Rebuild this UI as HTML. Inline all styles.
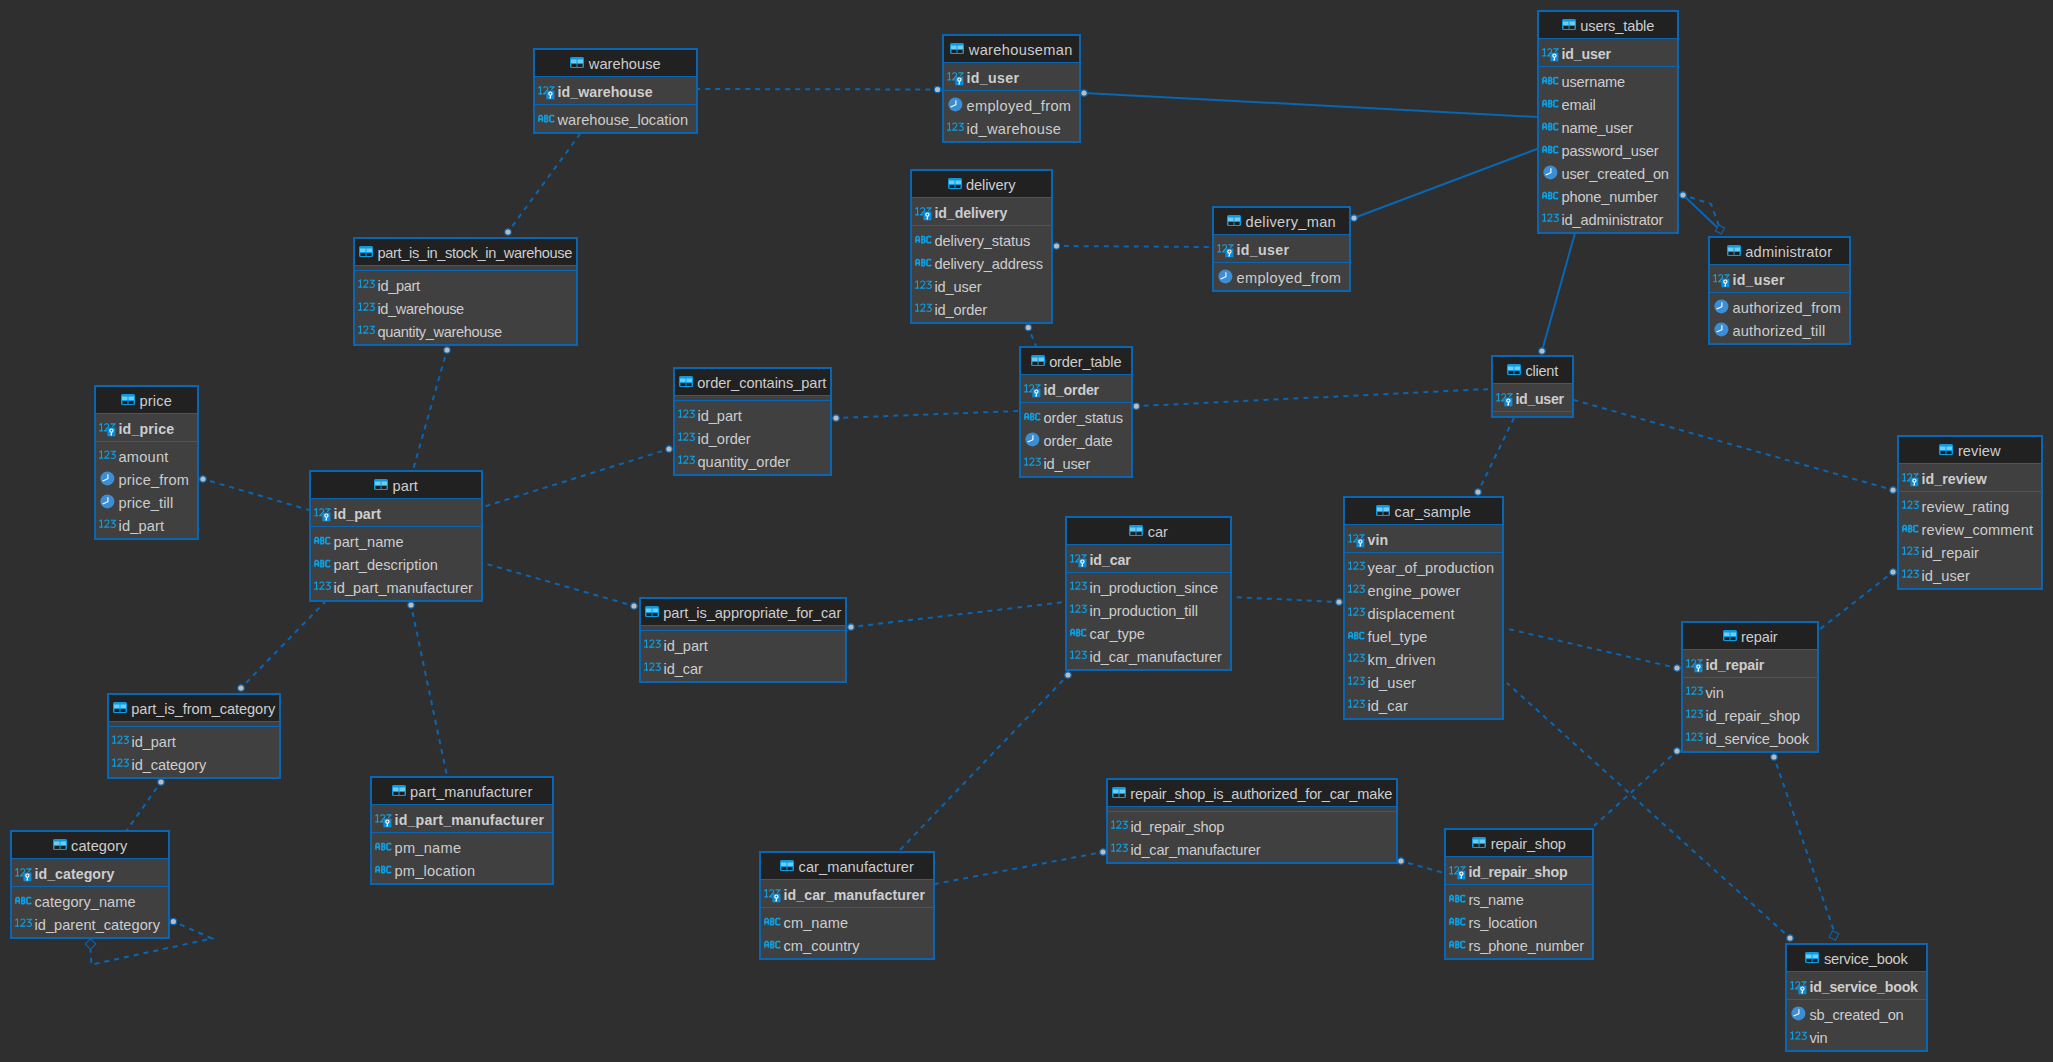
<!DOCTYPE html><html><head><meta charset="utf-8"><style>
*{margin:0;padding:0;box-sizing:border-box}
html,body{width:2053px;height:1062px;overflow:hidden;background:#2f2f2f}
body{position:relative;font-family:"Liberation Sans",sans-serif;font-size:14.6px;color:#cdcdcd}
.t{position:absolute;border:2px solid #0866b4;background:#404040}
.h{position:absolute;left:0;right:0;top:0;height:26px;background:#212121}
.hr{position:absolute;left:0;right:0;top:3.45px;height:23px;line-height:23px;text-align:center;white-space:nowrap}
.ti{display:inline-block;vertical-align:top;margin-top:4px;margin-right:4.5px}
.dv{position:absolute;left:0;right:0;height:1px;background:#0866b4}
.r{position:absolute;left:0;right:0;height:23px;line-height:23px;padding-left:22.5px;white-space:nowrap}
.b{font-weight:bold;font-size:14.2px}
.ic{position:absolute;overflow:visible}
svg.lines{position:absolute;left:0;top:0}
</style></head><body>
<svg class="lines" width="2053" height="1062" viewBox="0 0 2053 1062"><polyline points="940.20,89.51 698.00,89.00" fill="none" stroke="#0866b4" stroke-width="2" stroke-dasharray="5 5"/><polyline points="1084.00,93.00 1537.00,117.00" fill="none" stroke="#0866b4" stroke-width="2"/><polyline points="506.40,234.18 580.00,134.00" fill="none" stroke="#0866b4" stroke-width="2" stroke-dasharray="5 5"/><polyline points="447.74,347.40 413.00,470.00" fill="none" stroke="#0866b4" stroke-width="2" stroke-dasharray="5 5"/><polyline points="1053.80,245.98 1212.00,247.00" fill="none" stroke="#0866b4" stroke-width="2" stroke-dasharray="5 5"/><polyline points="1354.00,218.00 1537.00,149.00" fill="none" stroke="#0866b4" stroke-width="2"/><polyline points="1027.26,325.01 1036.00,346.00" fill="none" stroke="#0866b4" stroke-width="2" stroke-dasharray="5 5"/><polyline points="1542.00,351.00 1575.00,233.00" fill="none" stroke="#0866b4" stroke-width="2"/><polyline points="1683.00,195.00 1720.00,230.00" fill="none" stroke="#0866b4" stroke-width="2"/><polyline points="1680.43,194.17 1711.00,204.00 1719.00,226.00" fill="none" stroke="#0866b4" stroke-width="2" stroke-dasharray="5 5"/><polyline points="833.30,418.10 1019.00,411.00" fill="none" stroke="#0866b4" stroke-width="2" stroke-dasharray="5 5"/><polyline points="1133.60,406.33 1491.00,389.00" fill="none" stroke="#0866b4" stroke-width="2" stroke-dasharray="5 5"/><polyline points="1895.60,490.73 1574.00,400.00" fill="none" stroke="#0866b4" stroke-width="2" stroke-dasharray="5 5"/><polyline points="1476.82,494.43 1514.00,418.00" fill="none" stroke="#0866b4" stroke-width="2" stroke-dasharray="5 5"/><polyline points="200.41,478.24 309.00,510.00" fill="none" stroke="#0866b4" stroke-width="2" stroke-dasharray="5 5"/><polyline points="671.58,448.20 483.00,507.00" fill="none" stroke="#0866b4" stroke-width="2" stroke-dasharray="5 5"/><polyline points="636.60,606.74 483.00,563.00" fill="none" stroke="#0866b4" stroke-width="2" stroke-dasharray="5 5"/><polyline points="239.11,689.93 325.00,602.00" fill="none" stroke="#0866b4" stroke-width="2" stroke-dasharray="5 5"/><polyline points="410.44,602.36 447.00,776.00" fill="none" stroke="#0866b4" stroke-width="2" stroke-dasharray="5 5"/><polyline points="848.32,627.31 1065.00,602.00" fill="none" stroke="#0866b4" stroke-width="2" stroke-dasharray="5 5"/><polyline points="1341.70,602.13 1232.00,597.00" fill="none" stroke="#0866b4" stroke-width="2" stroke-dasharray="5 5"/><polyline points="1069.87,673.05 899.00,851.00" fill="none" stroke="#0866b4" stroke-width="2" stroke-dasharray="5 5"/><polyline points="162.56,779.80 127.00,830.00" fill="none" stroke="#0866b4" stroke-width="2" stroke-dasharray="5 5"/><polyline points="170.93,920.41 212.00,938.50 91.50,964.60 90.50,949.50" fill="none" stroke="#0866b4" stroke-width="2" stroke-dasharray="5 5"/><polyline points="1105.65,851.49 935.00,884.00" fill="none" stroke="#0866b4" stroke-width="2" stroke-dasharray="5 5"/><polyline points="1398.40,860.27 1444.00,873.00" fill="none" stroke="#0866b4" stroke-width="2" stroke-dasharray="5 5"/><polyline points="1679.63,668.61 1508.00,629.00" fill="none" stroke="#0866b4" stroke-width="2" stroke-dasharray="5 5"/><polyline points="1792.01,939.81 1507.00,683.00" fill="none" stroke="#0866b4" stroke-width="2" stroke-dasharray="5 5"/><polyline points="1679.00,749.19 1594.00,826.00" fill="none" stroke="#0866b4" stroke-width="2" stroke-dasharray="5 5"/><polyline points="1895.13,570.33 1819.00,630.00" fill="none" stroke="#0866b4" stroke-width="2" stroke-dasharray="5 5"/><polyline points="1773.12,754.45 1834.00,931.00" fill="none" stroke="#0866b4" stroke-width="2" stroke-dasharray="5 5"/><path d="M1721.40 234.09 L1715.41 230.90 L1718.60 224.91 L1724.59 228.10 Z" fill="#2f2f2f" stroke="#0866b4" stroke-width="1.1"/><path d="M90.50 949.30 L85.20 944.00 L90.50 938.70 L95.80 944.00 Z" fill="#2f2f2f" stroke="#0866b4" stroke-width="1.1"/><path d="M1835.63 940.23 L1829.27 937.13 L1832.37 930.77 L1838.73 933.87 Z" fill="#2f2f2f" stroke="#0866b4" stroke-width="1.1"/><circle cx="937.5" cy="89.5" r="3.2" fill="#bcbcbc" stroke="#0866b4" stroke-width="1.2"/><circle cx="1084" cy="93" r="3.2" fill="#bcbcbc" stroke="#0866b4" stroke-width="1.2"/><circle cx="508" cy="232" r="3.2" fill="#bcbcbc" stroke="#0866b4" stroke-width="1.2"/><circle cx="447" cy="350" r="3.2" fill="#bcbcbc" stroke="#0866b4" stroke-width="1.2"/><circle cx="1056.5" cy="246" r="3.2" fill="#bcbcbc" stroke="#0866b4" stroke-width="1.2"/><circle cx="1354" cy="218" r="3.2" fill="#bcbcbc" stroke="#0866b4" stroke-width="1.2"/><circle cx="1028.3" cy="327.5" r="3.2" fill="#bcbcbc" stroke="#0866b4" stroke-width="1.2"/><circle cx="1542" cy="351" r="3.2" fill="#bcbcbc" stroke="#0866b4" stroke-width="1.2"/><circle cx="1683" cy="195" r="3.2" fill="#bcbcbc" stroke="#0866b4" stroke-width="1.2"/><circle cx="836" cy="418" r="3.2" fill="#bcbcbc" stroke="#0866b4" stroke-width="1.2"/><circle cx="1136.3" cy="406.2" r="3.2" fill="#bcbcbc" stroke="#0866b4" stroke-width="1.2"/><circle cx="1893" cy="490" r="3.2" fill="#bcbcbc" stroke="#0866b4" stroke-width="1.2"/><circle cx="1478" cy="492" r="3.2" fill="#bcbcbc" stroke="#0866b4" stroke-width="1.2"/><circle cx="203" cy="479" r="3.2" fill="#bcbcbc" stroke="#0866b4" stroke-width="1.2"/><circle cx="669" cy="449" r="3.2" fill="#bcbcbc" stroke="#0866b4" stroke-width="1.2"/><circle cx="634" cy="606" r="3.2" fill="#bcbcbc" stroke="#0866b4" stroke-width="1.2"/><circle cx="241" cy="688" r="3.2" fill="#bcbcbc" stroke="#0866b4" stroke-width="1.2"/><circle cx="411" cy="605" r="3.2" fill="#bcbcbc" stroke="#0866b4" stroke-width="1.2"/><circle cx="851" cy="627" r="3.2" fill="#bcbcbc" stroke="#0866b4" stroke-width="1.2"/><circle cx="1339" cy="602" r="3.2" fill="#bcbcbc" stroke="#0866b4" stroke-width="1.2"/><circle cx="1068" cy="675" r="3.2" fill="#bcbcbc" stroke="#0866b4" stroke-width="1.2"/><circle cx="161" cy="782" r="3.2" fill="#bcbcbc" stroke="#0866b4" stroke-width="1.2"/><circle cx="173.4" cy="921.5" r="3.2" fill="#bcbcbc" stroke="#0866b4" stroke-width="1.2"/><circle cx="1103" cy="852" r="3.2" fill="#bcbcbc" stroke="#0866b4" stroke-width="1.2"/><circle cx="1401" cy="861" r="3.2" fill="#bcbcbc" stroke="#0866b4" stroke-width="1.2"/><circle cx="1677" cy="668" r="3.2" fill="#bcbcbc" stroke="#0866b4" stroke-width="1.2"/><circle cx="1790" cy="938" r="3.2" fill="#bcbcbc" stroke="#0866b4" stroke-width="1.2"/><circle cx="1677" cy="751" r="3.2" fill="#bcbcbc" stroke="#0866b4" stroke-width="1.2"/><circle cx="1893" cy="572" r="3.2" fill="#bcbcbc" stroke="#0866b4" stroke-width="1.2"/><circle cx="1774" cy="757" r="3.2" fill="#bcbcbc" stroke="#0866b4" stroke-width="1.2"/></svg>
<div class="t" style="left:533px;top:48px;width:165px;height:86.00px"><div class="h"><div class="hr"><svg class="ti" width="14" height="11" viewBox="0 0 14 11"><rect x="0" y="0" width="14" height="11" rx="1.5" fill="#0a9be3"/><rect x="1" y="2.5" width="5.5" height="3.5" fill="#6dcdf0"/><rect x="7.5" y="2.5" width="5.5" height="3.5" fill="#6dcdf0"/><rect x="1.5" y="7" width="5" height="3" fill="#1e1e1e"/><rect x="7.5" y="7" width="5" height="3" fill="#1e1e1e"/></svg><span style="letter-spacing:0.047px;">warehouse</span></div></div><div class="dv" style="top:26px"></div><div class="dv" style="top:54px"></div><div class="r b" style="top:31.45px;letter-spacing:0.046px;"><svg class="ic" style="top:5px;left:2.7px" width="18" height="15" viewBox="0 0 18 15"><g transform="translate(0.1,0.4)" stroke="#0aa0e6" stroke-width="1.15" fill="none" stroke-linejoin="round"><path d="M0.3 1.6 L2.4 0.2 V7.4 M0.2 7.4 H4"/><path d="M5.3 1.6 Q6.6 0.1 8.2 0.35 Q9.9 0.8 9.6 2.6 Q9.3 3.6 5.4 7.4 H8"/><path d="M11.3 0.5 H16.1 L13 3.5"/></g><rect x="8.4" y="4.6" width="8" height="8.7" fill="#0a8ddb"/><circle cx="12.4" cy="7.6" r="1.6" stroke="#fff" stroke-width="1.15" fill="none"/><path d="M12.4 9.2 V11.9 H11.4" stroke="#fff" stroke-width="1.15" fill="none"/></svg>id_warehouse</div><div class="r" style="top:58.90px;letter-spacing:0.040px;"><svg class="ic" style="top:6px;left:3px" width="18" height="9" viewBox="0 0 18 9"><g transform="translate(0,-0.4)" stroke="#0aa0e6" stroke-width="1.6" fill="none"><path d="M0.9 7.2 V2.1 L1.9 0.9 H3.3 L4.3 2.1 V7.2 M0.9 4.5 H4.3"/><path d="M6.9 7.1 V0.9 H8.8 L9.6 1.7 V2.8 L8.8 3.9 L9.7 4.9 V6.2 L8.9 7.1 Z M6.9 3.9 H8.8"/><path d="M16.2 1.7 L15.3 0.9 H12.8 L11.9 1.8 V6.2 L12.8 7.1 H15.3 L16.2 6.3"/></g></svg>warehouse_location</div></div>
<div class="t" style="left:942px;top:34px;width:139px;height:109.00px"><div class="h"><div class="hr"><svg class="ti" width="14" height="11" viewBox="0 0 14 11"><rect x="0" y="0" width="14" height="11" rx="1.5" fill="#0a9be3"/><rect x="1" y="2.5" width="5.5" height="3.5" fill="#6dcdf0"/><rect x="7.5" y="2.5" width="5.5" height="3.5" fill="#6dcdf0"/><rect x="1.5" y="7" width="5" height="3" fill="#1e1e1e"/><rect x="7.5" y="7" width="5" height="3" fill="#1e1e1e"/></svg><span style="letter-spacing:0.352px;">warehouseman</span></div></div><div class="dv" style="top:26px"></div><div class="dv" style="top:54px"></div><div class="r b" style="top:31.45px;letter-spacing:0.327px;"><svg class="ic" style="top:5px;left:2.7px" width="18" height="15" viewBox="0 0 18 15"><g transform="translate(0.1,0.4)" stroke="#0aa0e6" stroke-width="1.15" fill="none" stroke-linejoin="round"><path d="M0.3 1.6 L2.4 0.2 V7.4 M0.2 7.4 H4"/><path d="M5.3 1.6 Q6.6 0.1 8.2 0.35 Q9.9 0.8 9.6 2.6 Q9.3 3.6 5.4 7.4 H8"/><path d="M11.3 0.5 H16.1 L13 3.5"/></g><rect x="8.4" y="4.6" width="8" height="8.7" fill="#0a8ddb"/><circle cx="12.4" cy="7.6" r="1.6" stroke="#fff" stroke-width="1.15" fill="none"/><path d="M12.4 9.2 V11.9 H11.4" stroke="#fff" stroke-width="1.15" fill="none"/></svg>id_user</div><div class="r" style="top:58.90px;letter-spacing:0.326px;"><svg class="ic" style="top:2.5px;left:3.5px" width="15" height="15" viewBox="0 0 15 15"><circle cx="7.4" cy="7.4" r="7" fill="#3b8ed4"/><path d="M7.9 3.3 V7.7 L2.6 10" stroke="#fff" stroke-width="1.1" fill="none"/></svg>employed_from</div><div class="r" style="top:81.90px;letter-spacing:0.321px;"><svg class="ic" style="top:5px;left:3px" width="18" height="10" viewBox="0 0 18 10"><g transform="translate(0,-0.3) scale(1.03,1)" stroke="#0aa0e6" stroke-width="1.05" fill="none" stroke-linejoin="round"><path d="M0.3 1.6 L2.4 0.2 V7.4 M0.2 7.4 H4"/><path d="M5.3 1.6 Q6.6 0.1 8.2 0.35 Q9.9 0.8 9.6 2.6 Q9.3 3.6 5.4 7.4 H10.1"/><path d="M11.3 0.5 H16.1 L13 3.5 Q15.9 3.6 15.9 5.6 Q15.8 7.8 13.6 7.8 Q12 7.8 11.3 6.9"/></g></svg>id_warehouse</div></div>
<div class="t" style="left:1537px;top:10px;width:142px;height:224.00px"><div class="h"><div class="hr"><svg class="ti" width="14" height="11" viewBox="0 0 14 11"><rect x="0" y="0" width="14" height="11" rx="1.5" fill="#0a9be3"/><rect x="1" y="2.5" width="5.5" height="3.5" fill="#6dcdf0"/><rect x="7.5" y="2.5" width="5.5" height="3.5" fill="#6dcdf0"/><rect x="1.5" y="7" width="5" height="3" fill="#1e1e1e"/><rect x="7.5" y="7" width="5" height="3" fill="#1e1e1e"/></svg><span style="letter-spacing:-0.141px;">users_table</span></div></div><div class="dv" style="top:26px"></div><div class="dv" style="top:54px"></div><div class="r b" style="top:31.45px;letter-spacing:-0.157px;"><svg class="ic" style="top:5px;left:2.7px" width="18" height="15" viewBox="0 0 18 15"><g transform="translate(0.1,0.4)" stroke="#0aa0e6" stroke-width="1.15" fill="none" stroke-linejoin="round"><path d="M0.3 1.6 L2.4 0.2 V7.4 M0.2 7.4 H4"/><path d="M5.3 1.6 Q6.6 0.1 8.2 0.35 Q9.9 0.8 9.6 2.6 Q9.3 3.6 5.4 7.4 H8"/><path d="M11.3 0.5 H16.1 L13 3.5"/></g><rect x="8.4" y="4.6" width="8" height="8.7" fill="#0a8ddb"/><circle cx="12.4" cy="7.6" r="1.6" stroke="#fff" stroke-width="1.15" fill="none"/><path d="M12.4 9.2 V11.9 H11.4" stroke="#fff" stroke-width="1.15" fill="none"/></svg>id_user</div><div class="r" style="top:58.90px;letter-spacing:-0.173px;"><svg class="ic" style="top:6px;left:3px" width="18" height="9" viewBox="0 0 18 9"><g transform="translate(0,-0.4)" stroke="#0aa0e6" stroke-width="1.6" fill="none"><path d="M0.9 7.2 V2.1 L1.9 0.9 H3.3 L4.3 2.1 V7.2 M0.9 4.5 H4.3"/><path d="M6.9 7.1 V0.9 H8.8 L9.6 1.7 V2.8 L8.8 3.9 L9.7 4.9 V6.2 L8.9 7.1 Z M6.9 3.9 H8.8"/><path d="M16.2 1.7 L15.3 0.9 H12.8 L11.9 1.8 V6.2 L12.8 7.1 H15.3 L16.2 6.3"/></g></svg>username</div><div class="r" style="top:81.90px;letter-spacing:-0.163px;"><svg class="ic" style="top:6px;left:3px" width="18" height="9" viewBox="0 0 18 9"><g transform="translate(0,-0.4)" stroke="#0aa0e6" stroke-width="1.6" fill="none"><path d="M0.9 7.2 V2.1 L1.9 0.9 H3.3 L4.3 2.1 V7.2 M0.9 4.5 H4.3"/><path d="M6.9 7.1 V0.9 H8.8 L9.6 1.7 V2.8 L8.8 3.9 L9.7 4.9 V6.2 L8.9 7.1 Z M6.9 3.9 H8.8"/><path d="M16.2 1.7 L15.3 0.9 H12.8 L11.9 1.8 V6.2 L12.8 7.1 H15.3 L16.2 6.3"/></g></svg>email</div><div class="r" style="top:104.90px;letter-spacing:-0.171px;"><svg class="ic" style="top:6px;left:3px" width="18" height="9" viewBox="0 0 18 9"><g transform="translate(0,-0.4)" stroke="#0aa0e6" stroke-width="1.6" fill="none"><path d="M0.9 7.2 V2.1 L1.9 0.9 H3.3 L4.3 2.1 V7.2 M0.9 4.5 H4.3"/><path d="M6.9 7.1 V0.9 H8.8 L9.6 1.7 V2.8 L8.8 3.9 L9.7 4.9 V6.2 L8.9 7.1 Z M6.9 3.9 H8.8"/><path d="M16.2 1.7 L15.3 0.9 H12.8 L11.9 1.8 V6.2 L12.8 7.1 H15.3 L16.2 6.3"/></g></svg>name_user</div><div class="r" style="top:127.90px;letter-spacing:-0.154px;"><svg class="ic" style="top:6px;left:3px" width="18" height="9" viewBox="0 0 18 9"><g transform="translate(0,-0.4)" stroke="#0aa0e6" stroke-width="1.6" fill="none"><path d="M0.9 7.2 V2.1 L1.9 0.9 H3.3 L4.3 2.1 V7.2 M0.9 4.5 H4.3"/><path d="M6.9 7.1 V0.9 H8.8 L9.6 1.7 V2.8 L8.8 3.9 L9.7 4.9 V6.2 L8.9 7.1 Z M6.9 3.9 H8.8"/><path d="M16.2 1.7 L15.3 0.9 H12.8 L11.9 1.8 V6.2 L12.8 7.1 H15.3 L16.2 6.3"/></g></svg>password_user</div><div class="r" style="top:150.90px;letter-spacing:-0.146px;"><svg class="ic" style="top:2.5px;left:3.5px" width="15" height="15" viewBox="0 0 15 15"><circle cx="7.4" cy="7.4" r="7" fill="#3b8ed4"/><path d="M7.9 3.3 V7.7 L2.6 10" stroke="#fff" stroke-width="1.1" fill="none"/></svg>user_created_on</div><div class="r" style="top:173.90px;letter-spacing:-0.167px;"><svg class="ic" style="top:6px;left:3px" width="18" height="9" viewBox="0 0 18 9"><g transform="translate(0,-0.4)" stroke="#0aa0e6" stroke-width="1.6" fill="none"><path d="M0.9 7.2 V2.1 L1.9 0.9 H3.3 L4.3 2.1 V7.2 M0.9 4.5 H4.3"/><path d="M6.9 7.1 V0.9 H8.8 L9.6 1.7 V2.8 L8.8 3.9 L9.7 4.9 V6.2 L8.9 7.1 Z M6.9 3.9 H8.8"/><path d="M16.2 1.7 L15.3 0.9 H12.8 L11.9 1.8 V6.2 L12.8 7.1 H15.3 L16.2 6.3"/></g></svg>phone_number</div><div class="r" style="top:196.90px;letter-spacing:-0.129px;"><svg class="ic" style="top:5px;left:3px" width="18" height="10" viewBox="0 0 18 10"><g transform="translate(0,-0.3) scale(1.03,1)" stroke="#0aa0e6" stroke-width="1.05" fill="none" stroke-linejoin="round"><path d="M0.3 1.6 L2.4 0.2 V7.4 M0.2 7.4 H4"/><path d="M5.3 1.6 Q6.6 0.1 8.2 0.35 Q9.9 0.8 9.6 2.6 Q9.3 3.6 5.4 7.4 H10.1"/><path d="M11.3 0.5 H16.1 L13 3.5 Q15.9 3.6 15.9 5.6 Q15.8 7.8 13.6 7.8 Q12 7.8 11.3 6.9"/></g></svg>id_administrator</div></div>
<div class="t" style="left:353px;top:237px;width:225px;height:109.00px"><div class="h"><div class="hr"><svg class="ti" width="14" height="11" viewBox="0 0 14 11"><rect x="0" y="0" width="14" height="11" rx="1.5" fill="#0a9be3"/><rect x="1" y="2.5" width="5.5" height="3.5" fill="#6dcdf0"/><rect x="7.5" y="2.5" width="5.5" height="3.5" fill="#6dcdf0"/><rect x="1.5" y="7" width="5" height="3" fill="#1e1e1e"/><rect x="7.5" y="7" width="5" height="3" fill="#1e1e1e"/></svg><span style="letter-spacing:-0.338px;">part_is_in_stock_in_warehouse</span></div></div><div class="dv" style="top:26px"></div><div class="dv" style="top:31px"></div><div class="r" style="top:35.90px;letter-spacing:-0.344px;"><svg class="ic" style="top:5px;left:3px" width="18" height="10" viewBox="0 0 18 10"><g transform="translate(0,-0.3) scale(1.03,1)" stroke="#0aa0e6" stroke-width="1.05" fill="none" stroke-linejoin="round"><path d="M0.3 1.6 L2.4 0.2 V7.4 M0.2 7.4 H4"/><path d="M5.3 1.6 Q6.6 0.1 8.2 0.35 Q9.9 0.8 9.6 2.6 Q9.3 3.6 5.4 7.4 H10.1"/><path d="M11.3 0.5 H16.1 L13 3.5 Q15.9 3.6 15.9 5.6 Q15.8 7.8 13.6 7.8 Q12 7.8 11.3 6.9"/></g></svg>id_part</div><div class="r" style="top:58.90px;letter-spacing:-0.382px;"><svg class="ic" style="top:5px;left:3px" width="18" height="10" viewBox="0 0 18 10"><g transform="translate(0,-0.3) scale(1.03,1)" stroke="#0aa0e6" stroke-width="1.05" fill="none" stroke-linejoin="round"><path d="M0.3 1.6 L2.4 0.2 V7.4 M0.2 7.4 H4"/><path d="M5.3 1.6 Q6.6 0.1 8.2 0.35 Q9.9 0.8 9.6 2.6 Q9.3 3.6 5.4 7.4 H10.1"/><path d="M11.3 0.5 H16.1 L13 3.5 Q15.9 3.6 15.9 5.6 Q15.8 7.8 13.6 7.8 Q12 7.8 11.3 6.9"/></g></svg>id_warehouse</div><div class="r" style="top:81.90px;letter-spacing:-0.355px;"><svg class="ic" style="top:5px;left:3px" width="18" height="10" viewBox="0 0 18 10"><g transform="translate(0,-0.3) scale(1.03,1)" stroke="#0aa0e6" stroke-width="1.05" fill="none" stroke-linejoin="round"><path d="M0.3 1.6 L2.4 0.2 V7.4 M0.2 7.4 H4"/><path d="M5.3 1.6 Q6.6 0.1 8.2 0.35 Q9.9 0.8 9.6 2.6 Q9.3 3.6 5.4 7.4 H10.1"/><path d="M11.3 0.5 H16.1 L13 3.5 Q15.9 3.6 15.9 5.6 Q15.8 7.8 13.6 7.8 Q12 7.8 11.3 6.9"/></g></svg>quantity_warehouse</div></div>
<div class="t" style="left:910px;top:169px;width:143px;height:155.00px"><div class="h"><div class="hr"><svg class="ti" width="14" height="11" viewBox="0 0 14 11"><rect x="0" y="0" width="14" height="11" rx="1.5" fill="#0a9be3"/><rect x="1" y="2.5" width="5.5" height="3.5" fill="#6dcdf0"/><rect x="7.5" y="2.5" width="5.5" height="3.5" fill="#6dcdf0"/><rect x="1.5" y="7" width="5" height="3" fill="#1e1e1e"/><rect x="7.5" y="7" width="5" height="3" fill="#1e1e1e"/></svg><span style="letter-spacing:-0.119px;">delivery</span></div></div><div class="dv" style="top:26px"></div><div class="dv" style="top:54px"></div><div class="r b" style="top:31.45px;letter-spacing:-0.123px;"><svg class="ic" style="top:5px;left:2.7px" width="18" height="15" viewBox="0 0 18 15"><g transform="translate(0.1,0.4)" stroke="#0aa0e6" stroke-width="1.15" fill="none" stroke-linejoin="round"><path d="M0.3 1.6 L2.4 0.2 V7.4 M0.2 7.4 H4"/><path d="M5.3 1.6 Q6.6 0.1 8.2 0.35 Q9.9 0.8 9.6 2.6 Q9.3 3.6 5.4 7.4 H8"/><path d="M11.3 0.5 H16.1 L13 3.5"/></g><rect x="8.4" y="4.6" width="8" height="8.7" fill="#0a8ddb"/><circle cx="12.4" cy="7.6" r="1.6" stroke="#fff" stroke-width="1.15" fill="none"/><path d="M12.4 9.2 V11.9 H11.4" stroke="#fff" stroke-width="1.15" fill="none"/></svg>id_delivery</div><div class="r" style="top:58.90px;letter-spacing:-0.115px;"><svg class="ic" style="top:6px;left:3px" width="18" height="9" viewBox="0 0 18 9"><g transform="translate(0,-0.4)" stroke="#0aa0e6" stroke-width="1.6" fill="none"><path d="M0.9 7.2 V2.1 L1.9 0.9 H3.3 L4.3 2.1 V7.2 M0.9 4.5 H4.3"/><path d="M6.9 7.1 V0.9 H8.8 L9.6 1.7 V2.8 L8.8 3.9 L9.7 4.9 V6.2 L8.9 7.1 Z M6.9 3.9 H8.8"/><path d="M16.2 1.7 L15.3 0.9 H12.8 L11.9 1.8 V6.2 L12.8 7.1 H15.3 L16.2 6.3"/></g></svg>delivery_status</div><div class="r" style="top:81.90px;letter-spacing:-0.122px;"><svg class="ic" style="top:6px;left:3px" width="18" height="9" viewBox="0 0 18 9"><g transform="translate(0,-0.4)" stroke="#0aa0e6" stroke-width="1.6" fill="none"><path d="M0.9 7.2 V2.1 L1.9 0.9 H3.3 L4.3 2.1 V7.2 M0.9 4.5 H4.3"/><path d="M6.9 7.1 V0.9 H8.8 L9.6 1.7 V2.8 L8.8 3.9 L9.7 4.9 V6.2 L8.9 7.1 Z M6.9 3.9 H8.8"/><path d="M16.2 1.7 L15.3 0.9 H12.8 L11.9 1.8 V6.2 L12.8 7.1 H15.3 L16.2 6.3"/></g></svg>delivery_address</div><div class="r" style="top:104.90px;letter-spacing:-0.132px;"><svg class="ic" style="top:5px;left:3px" width="18" height="10" viewBox="0 0 18 10"><g transform="translate(0,-0.3) scale(1.03,1)" stroke="#0aa0e6" stroke-width="1.05" fill="none" stroke-linejoin="round"><path d="M0.3 1.6 L2.4 0.2 V7.4 M0.2 7.4 H4"/><path d="M5.3 1.6 Q6.6 0.1 8.2 0.35 Q9.9 0.8 9.6 2.6 Q9.3 3.6 5.4 7.4 H10.1"/><path d="M11.3 0.5 H16.1 L13 3.5 Q15.9 3.6 15.9 5.6 Q15.8 7.8 13.6 7.8 Q12 7.8 11.3 6.9"/></g></svg>id_user</div><div class="r" style="top:127.90px;letter-spacing:-0.127px;"><svg class="ic" style="top:5px;left:3px" width="18" height="10" viewBox="0 0 18 10"><g transform="translate(0,-0.3) scale(1.03,1)" stroke="#0aa0e6" stroke-width="1.05" fill="none" stroke-linejoin="round"><path d="M0.3 1.6 L2.4 0.2 V7.4 M0.2 7.4 H4"/><path d="M5.3 1.6 Q6.6 0.1 8.2 0.35 Q9.9 0.8 9.6 2.6 Q9.3 3.6 5.4 7.4 H10.1"/><path d="M11.3 0.5 H16.1 L13 3.5 Q15.9 3.6 15.9 5.6 Q15.8 7.8 13.6 7.8 Q12 7.8 11.3 6.9"/></g></svg>id_order</div></div>
<div class="t" style="left:1212px;top:206px;width:139px;height:86.00px"><div class="h"><div class="hr"><svg class="ti" width="14" height="11" viewBox="0 0 14 11"><rect x="0" y="0" width="14" height="11" rx="1.5" fill="#0a9be3"/><rect x="1" y="2.5" width="5.5" height="3.5" fill="#6dcdf0"/><rect x="7.5" y="2.5" width="5.5" height="3.5" fill="#6dcdf0"/><rect x="1.5" y="7" width="5" height="3" fill="#1e1e1e"/><rect x="7.5" y="7" width="5" height="3" fill="#1e1e1e"/></svg><span style="letter-spacing:0.306px;">delivery_man</span></div></div><div class="dv" style="top:26px"></div><div class="dv" style="top:54px"></div><div class="r b" style="top:31.45px;letter-spacing:0.327px;"><svg class="ic" style="top:5px;left:2.7px" width="18" height="15" viewBox="0 0 18 15"><g transform="translate(0.1,0.4)" stroke="#0aa0e6" stroke-width="1.15" fill="none" stroke-linejoin="round"><path d="M0.3 1.6 L2.4 0.2 V7.4 M0.2 7.4 H4"/><path d="M5.3 1.6 Q6.6 0.1 8.2 0.35 Q9.9 0.8 9.6 2.6 Q9.3 3.6 5.4 7.4 H8"/><path d="M11.3 0.5 H16.1 L13 3.5"/></g><rect x="8.4" y="4.6" width="8" height="8.7" fill="#0a8ddb"/><circle cx="12.4" cy="7.6" r="1.6" stroke="#fff" stroke-width="1.15" fill="none"/><path d="M12.4 9.2 V11.9 H11.4" stroke="#fff" stroke-width="1.15" fill="none"/></svg>id_user</div><div class="r" style="top:58.90px;letter-spacing:0.326px;"><svg class="ic" style="top:2.5px;left:3.5px" width="15" height="15" viewBox="0 0 15 15"><circle cx="7.4" cy="7.4" r="7" fill="#3b8ed4"/><path d="M7.9 3.3 V7.7 L2.6 10" stroke="#fff" stroke-width="1.1" fill="none"/></svg>employed_from</div></div>
<div class="t" style="left:1708px;top:236px;width:143px;height:109.00px"><div class="h"><div class="hr"><svg class="ti" width="14" height="11" viewBox="0 0 14 11"><rect x="0" y="0" width="14" height="11" rx="1.5" fill="#0a9be3"/><rect x="1" y="2.5" width="5.5" height="3.5" fill="#6dcdf0"/><rect x="7.5" y="2.5" width="5.5" height="3.5" fill="#6dcdf0"/><rect x="1.5" y="7" width="5" height="3" fill="#1e1e1e"/><rect x="7.5" y="7" width="5" height="3" fill="#1e1e1e"/></svg><span style="letter-spacing:0.202px;">administrator</span></div></div><div class="dv" style="top:26px"></div><div class="dv" style="top:54px"></div><div class="r b" style="top:31.45px;letter-spacing:0.242px;"><svg class="ic" style="top:5px;left:2.7px" width="18" height="15" viewBox="0 0 18 15"><g transform="translate(0.1,0.4)" stroke="#0aa0e6" stroke-width="1.15" fill="none" stroke-linejoin="round"><path d="M0.3 1.6 L2.4 0.2 V7.4 M0.2 7.4 H4"/><path d="M5.3 1.6 Q6.6 0.1 8.2 0.35 Q9.9 0.8 9.6 2.6 Q9.3 3.6 5.4 7.4 H8"/><path d="M11.3 0.5 H16.1 L13 3.5"/></g><rect x="8.4" y="4.6" width="8" height="8.7" fill="#0a8ddb"/><circle cx="12.4" cy="7.6" r="1.6" stroke="#fff" stroke-width="1.15" fill="none"/><path d="M12.4 9.2 V11.9 H11.4" stroke="#fff" stroke-width="1.15" fill="none"/></svg>id_user</div><div class="r" style="top:58.90px;letter-spacing:0.217px;"><svg class="ic" style="top:2.5px;left:3.5px" width="15" height="15" viewBox="0 0 15 15"><circle cx="7.4" cy="7.4" r="7" fill="#3b8ed4"/><path d="M7.9 3.3 V7.7 L2.6 10" stroke="#fff" stroke-width="1.1" fill="none"/></svg>authorized_from</div><div class="r" style="top:81.90px;letter-spacing:0.185px;"><svg class="ic" style="top:2.5px;left:3.5px" width="15" height="15" viewBox="0 0 15 15"><circle cx="7.4" cy="7.4" r="7" fill="#3b8ed4"/><path d="M7.9 3.3 V7.7 L2.6 10" stroke="#fff" stroke-width="1.1" fill="none"/></svg>authorized_till</div></div>
<div class="t" style="left:94px;top:385px;width:105px;height:155.00px"><div class="h"><div class="hr"><svg class="ti" width="14" height="11" viewBox="0 0 14 11"><rect x="0" y="0" width="14" height="11" rx="1.5" fill="#0a9be3"/><rect x="1" y="2.5" width="5.5" height="3.5" fill="#6dcdf0"/><rect x="7.5" y="2.5" width="5.5" height="3.5" fill="#6dcdf0"/><rect x="1.5" y="7" width="5" height="3" fill="#1e1e1e"/><rect x="7.5" y="7" width="5" height="3" fill="#1e1e1e"/></svg><span style="letter-spacing:0.179px;">price</span></div></div><div class="dv" style="top:26px"></div><div class="dv" style="top:54px"></div><div class="r b" style="top:31.45px;letter-spacing:0.176px;"><svg class="ic" style="top:5px;left:2.7px" width="18" height="15" viewBox="0 0 18 15"><g transform="translate(0.1,0.4)" stroke="#0aa0e6" stroke-width="1.15" fill="none" stroke-linejoin="round"><path d="M0.3 1.6 L2.4 0.2 V7.4 M0.2 7.4 H4"/><path d="M5.3 1.6 Q6.6 0.1 8.2 0.35 Q9.9 0.8 9.6 2.6 Q9.3 3.6 5.4 7.4 H8"/><path d="M11.3 0.5 H16.1 L13 3.5"/></g><rect x="8.4" y="4.6" width="8" height="8.7" fill="#0a8ddb"/><circle cx="12.4" cy="7.6" r="1.6" stroke="#fff" stroke-width="1.15" fill="none"/><path d="M12.4 9.2 V11.9 H11.4" stroke="#fff" stroke-width="1.15" fill="none"/></svg>id_price</div><div class="r" style="top:58.90px;letter-spacing:0.221px;"><svg class="ic" style="top:5px;left:3px" width="18" height="10" viewBox="0 0 18 10"><g transform="translate(0,-0.3) scale(1.03,1)" stroke="#0aa0e6" stroke-width="1.05" fill="none" stroke-linejoin="round"><path d="M0.3 1.6 L2.4 0.2 V7.4 M0.2 7.4 H4"/><path d="M5.3 1.6 Q6.6 0.1 8.2 0.35 Q9.9 0.8 9.6 2.6 Q9.3 3.6 5.4 7.4 H10.1"/><path d="M11.3 0.5 H16.1 L13 3.5 Q15.9 3.6 15.9 5.6 Q15.8 7.8 13.6 7.8 Q12 7.8 11.3 6.9"/></g></svg>amount</div><div class="r" style="top:81.90px;letter-spacing:0.174px;"><svg class="ic" style="top:2.5px;left:3.5px" width="15" height="15" viewBox="0 0 15 15"><circle cx="7.4" cy="7.4" r="7" fill="#3b8ed4"/><path d="M7.9 3.3 V7.7 L2.6 10" stroke="#fff" stroke-width="1.1" fill="none"/></svg>price_from</div><div class="r" style="top:104.90px;letter-spacing:0.135px;"><svg class="ic" style="top:2.5px;left:3.5px" width="15" height="15" viewBox="0 0 15 15"><circle cx="7.4" cy="7.4" r="7" fill="#3b8ed4"/><path d="M7.9 3.3 V7.7 L2.6 10" stroke="#fff" stroke-width="1.1" fill="none"/></svg>price_till</div><div class="r" style="top:127.90px;letter-spacing:0.169px;"><svg class="ic" style="top:5px;left:3px" width="18" height="10" viewBox="0 0 18 10"><g transform="translate(0,-0.3) scale(1.03,1)" stroke="#0aa0e6" stroke-width="1.05" fill="none" stroke-linejoin="round"><path d="M0.3 1.6 L2.4 0.2 V7.4 M0.2 7.4 H4"/><path d="M5.3 1.6 Q6.6 0.1 8.2 0.35 Q9.9 0.8 9.6 2.6 Q9.3 3.6 5.4 7.4 H10.1"/><path d="M11.3 0.5 H16.1 L13 3.5 Q15.9 3.6 15.9 5.6 Q15.8 7.8 13.6 7.8 Q12 7.8 11.3 6.9"/></g></svg>id_part</div></div>
<div class="t" style="left:673px;top:367px;width:159px;height:109.00px"><div class="h"><div class="hr"><svg class="ti" width="14" height="11" viewBox="0 0 14 11"><rect x="0" y="0" width="14" height="11" rx="1.5" fill="#0a9be3"/><rect x="1" y="2.5" width="5.5" height="3.5" fill="#6dcdf0"/><rect x="7.5" y="2.5" width="5.5" height="3.5" fill="#6dcdf0"/><rect x="1.5" y="7" width="5" height="3" fill="#1e1e1e"/><rect x="7.5" y="7" width="5" height="3" fill="#1e1e1e"/></svg><span style="letter-spacing:-0.045px;">order_contains_part</span></div></div><div class="dv" style="top:26px"></div><div class="dv" style="top:31px"></div><div class="r" style="top:35.90px;letter-spacing:-0.047px;"><svg class="ic" style="top:5px;left:3px" width="18" height="10" viewBox="0 0 18 10"><g transform="translate(0,-0.3) scale(1.03,1)" stroke="#0aa0e6" stroke-width="1.05" fill="none" stroke-linejoin="round"><path d="M0.3 1.6 L2.4 0.2 V7.4 M0.2 7.4 H4"/><path d="M5.3 1.6 Q6.6 0.1 8.2 0.35 Q9.9 0.8 9.6 2.6 Q9.3 3.6 5.4 7.4 H10.1"/><path d="M11.3 0.5 H16.1 L13 3.5 Q15.9 3.6 15.9 5.6 Q15.8 7.8 13.6 7.8 Q12 7.8 11.3 6.9"/></g></svg>id_part</div><div class="r" style="top:58.90px;letter-spacing:-0.048px;"><svg class="ic" style="top:5px;left:3px" width="18" height="10" viewBox="0 0 18 10"><g transform="translate(0,-0.3) scale(1.03,1)" stroke="#0aa0e6" stroke-width="1.05" fill="none" stroke-linejoin="round"><path d="M0.3 1.6 L2.4 0.2 V7.4 M0.2 7.4 H4"/><path d="M5.3 1.6 Q6.6 0.1 8.2 0.35 Q9.9 0.8 9.6 2.6 Q9.3 3.6 5.4 7.4 H10.1"/><path d="M11.3 0.5 H16.1 L13 3.5 Q15.9 3.6 15.9 5.6 Q15.8 7.8 13.6 7.8 Q12 7.8 11.3 6.9"/></g></svg>id_order</div><div class="r" style="top:81.90px;letter-spacing:-0.045px;"><svg class="ic" style="top:5px;left:3px" width="18" height="10" viewBox="0 0 18 10"><g transform="translate(0,-0.3) scale(1.03,1)" stroke="#0aa0e6" stroke-width="1.05" fill="none" stroke-linejoin="round"><path d="M0.3 1.6 L2.4 0.2 V7.4 M0.2 7.4 H4"/><path d="M5.3 1.6 Q6.6 0.1 8.2 0.35 Q9.9 0.8 9.6 2.6 Q9.3 3.6 5.4 7.4 H10.1"/><path d="M11.3 0.5 H16.1 L13 3.5 Q15.9 3.6 15.9 5.6 Q15.8 7.8 13.6 7.8 Q12 7.8 11.3 6.9"/></g></svg>quantity_order</div></div>
<div class="t" style="left:1019px;top:346px;width:114px;height:132.00px"><div class="h"><div class="hr"><svg class="ti" width="14" height="11" viewBox="0 0 14 11"><rect x="0" y="0" width="14" height="11" rx="1.5" fill="#0a9be3"/><rect x="1" y="2.5" width="5.5" height="3.5" fill="#6dcdf0"/><rect x="7.5" y="2.5" width="5.5" height="3.5" fill="#6dcdf0"/><rect x="1.5" y="7" width="5" height="3" fill="#1e1e1e"/><rect x="7.5" y="7" width="5" height="3" fill="#1e1e1e"/></svg><span style="letter-spacing:-0.148px;">order_table</span></div></div><div class="dv" style="top:26px"></div><div class="dv" style="top:54px"></div><div class="r b" style="top:31.45px;letter-spacing:-0.162px;"><svg class="ic" style="top:5px;left:2.7px" width="18" height="15" viewBox="0 0 18 15"><g transform="translate(0.1,0.4)" stroke="#0aa0e6" stroke-width="1.15" fill="none" stroke-linejoin="round"><path d="M0.3 1.6 L2.4 0.2 V7.4 M0.2 7.4 H4"/><path d="M5.3 1.6 Q6.6 0.1 8.2 0.35 Q9.9 0.8 9.6 2.6 Q9.3 3.6 5.4 7.4 H8"/><path d="M11.3 0.5 H16.1 L13 3.5"/></g><rect x="8.4" y="4.6" width="8" height="8.7" fill="#0a8ddb"/><circle cx="12.4" cy="7.6" r="1.6" stroke="#fff" stroke-width="1.15" fill="none"/><path d="M12.4 9.2 V11.9 H11.4" stroke="#fff" stroke-width="1.15" fill="none"/></svg>id_order</div><div class="r" style="top:58.90px;letter-spacing:-0.148px;"><svg class="ic" style="top:6px;left:3px" width="18" height="9" viewBox="0 0 18 9"><g transform="translate(0,-0.4)" stroke="#0aa0e6" stroke-width="1.6" fill="none"><path d="M0.9 7.2 V2.1 L1.9 0.9 H3.3 L4.3 2.1 V7.2 M0.9 4.5 H4.3"/><path d="M6.9 7.1 V0.9 H8.8 L9.6 1.7 V2.8 L8.8 3.9 L9.7 4.9 V6.2 L8.9 7.1 Z M6.9 3.9 H8.8"/><path d="M16.2 1.7 L15.3 0.9 H12.8 L11.9 1.8 V6.2 L12.8 7.1 H15.3 L16.2 6.3"/></g></svg>order_status</div><div class="r" style="top:81.90px;letter-spacing:-0.157px;"><svg class="ic" style="top:2.5px;left:3.5px" width="15" height="15" viewBox="0 0 15 15"><circle cx="7.4" cy="7.4" r="7" fill="#3b8ed4"/><path d="M7.9 3.3 V7.7 L2.6 10" stroke="#fff" stroke-width="1.1" fill="none"/></svg>order_date</div><div class="r" style="top:104.90px;letter-spacing:-0.160px;"><svg class="ic" style="top:5px;left:3px" width="18" height="10" viewBox="0 0 18 10"><g transform="translate(0,-0.3) scale(1.03,1)" stroke="#0aa0e6" stroke-width="1.05" fill="none" stroke-linejoin="round"><path d="M0.3 1.6 L2.4 0.2 V7.4 M0.2 7.4 H4"/><path d="M5.3 1.6 Q6.6 0.1 8.2 0.35 Q9.9 0.8 9.6 2.6 Q9.3 3.6 5.4 7.4 H10.1"/><path d="M11.3 0.5 H16.1 L13 3.5 Q15.9 3.6 15.9 5.6 Q15.8 7.8 13.6 7.8 Q12 7.8 11.3 6.9"/></g></svg>id_user</div></div>
<div class="t" style="left:1491px;top:355px;width:83px;height:63.00px"><div class="h"><div class="hr"><svg class="ti" width="14" height="11" viewBox="0 0 14 11"><rect x="0" y="0" width="14" height="11" rx="1.5" fill="#0a9be3"/><rect x="1" y="2.5" width="5.5" height="3.5" fill="#6dcdf0"/><rect x="7.5" y="2.5" width="5.5" height="3.5" fill="#6dcdf0"/><rect x="1.5" y="7" width="5" height="3" fill="#1e1e1e"/><rect x="7.5" y="7" width="5" height="3" fill="#1e1e1e"/></svg><span style="letter-spacing:-0.266px;">client</span></div></div><div class="dv" style="top:26px"></div><div class="dv" style="top:54px"></div><div class="r b" style="top:31.45px;letter-spacing:-0.328px;"><svg class="ic" style="top:5px;left:2.7px" width="18" height="15" viewBox="0 0 18 15"><g transform="translate(0.1,0.4)" stroke="#0aa0e6" stroke-width="1.15" fill="none" stroke-linejoin="round"><path d="M0.3 1.6 L2.4 0.2 V7.4 M0.2 7.4 H4"/><path d="M5.3 1.6 Q6.6 0.1 8.2 0.35 Q9.9 0.8 9.6 2.6 Q9.3 3.6 5.4 7.4 H8"/><path d="M11.3 0.5 H16.1 L13 3.5"/></g><rect x="8.4" y="4.6" width="8" height="8.7" fill="#0a8ddb"/><circle cx="12.4" cy="7.6" r="1.6" stroke="#fff" stroke-width="1.15" fill="none"/><path d="M12.4 9.2 V11.9 H11.4" stroke="#fff" stroke-width="1.15" fill="none"/></svg>id_user</div></div>
<div class="t" style="left:1897px;top:435px;width:146px;height:155.00px"><div class="h"><div class="hr"><svg class="ti" width="14" height="11" viewBox="0 0 14 11"><rect x="0" y="0" width="14" height="11" rx="1.5" fill="#0a9be3"/><rect x="1" y="2.5" width="5.5" height="3.5" fill="#6dcdf0"/><rect x="7.5" y="2.5" width="5.5" height="3.5" fill="#6dcdf0"/><rect x="1.5" y="7" width="5" height="3" fill="#1e1e1e"/><rect x="7.5" y="7" width="5" height="3" fill="#1e1e1e"/></svg><span style="letter-spacing:0.091px;">review</span></div></div><div class="dv" style="top:26px"></div><div class="dv" style="top:54px"></div><div class="r b" style="top:31.45px;letter-spacing:0.087px;"><svg class="ic" style="top:5px;left:2.7px" width="18" height="15" viewBox="0 0 18 15"><g transform="translate(0.1,0.4)" stroke="#0aa0e6" stroke-width="1.15" fill="none" stroke-linejoin="round"><path d="M0.3 1.6 L2.4 0.2 V7.4 M0.2 7.4 H4"/><path d="M5.3 1.6 Q6.6 0.1 8.2 0.35 Q9.9 0.8 9.6 2.6 Q9.3 3.6 5.4 7.4 H8"/><path d="M11.3 0.5 H16.1 L13 3.5"/></g><rect x="8.4" y="4.6" width="8" height="8.7" fill="#0a8ddb"/><circle cx="12.4" cy="7.6" r="1.6" stroke="#fff" stroke-width="1.15" fill="none"/><path d="M12.4 9.2 V11.9 H11.4" stroke="#fff" stroke-width="1.15" fill="none"/></svg>id_review</div><div class="r" style="top:58.90px;letter-spacing:0.078px;"><svg class="ic" style="top:5px;left:3px" width="18" height="10" viewBox="0 0 18 10"><g transform="translate(0,-0.3) scale(1.03,1)" stroke="#0aa0e6" stroke-width="1.05" fill="none" stroke-linejoin="round"><path d="M0.3 1.6 L2.4 0.2 V7.4 M0.2 7.4 H4"/><path d="M5.3 1.6 Q6.6 0.1 8.2 0.35 Q9.9 0.8 9.6 2.6 Q9.3 3.6 5.4 7.4 H10.1"/><path d="M11.3 0.5 H16.1 L13 3.5 Q15.9 3.6 15.9 5.6 Q15.8 7.8 13.6 7.8 Q12 7.8 11.3 6.9"/></g></svg>review_rating</div><div class="r" style="top:81.90px;letter-spacing:0.091px;"><svg class="ic" style="top:6px;left:3px" width="18" height="9" viewBox="0 0 18 9"><g transform="translate(0,-0.4)" stroke="#0aa0e6" stroke-width="1.6" fill="none"><path d="M0.9 7.2 V2.1 L1.9 0.9 H3.3 L4.3 2.1 V7.2 M0.9 4.5 H4.3"/><path d="M6.9 7.1 V0.9 H8.8 L9.6 1.7 V2.8 L8.8 3.9 L9.7 4.9 V6.2 L8.9 7.1 Z M6.9 3.9 H8.8"/><path d="M16.2 1.7 L15.3 0.9 H12.8 L11.9 1.8 V6.2 L12.8 7.1 H15.3 L16.2 6.3"/></g></svg>review_comment</div><div class="r" style="top:104.90px;letter-spacing:0.076px;"><svg class="ic" style="top:5px;left:3px" width="18" height="10" viewBox="0 0 18 10"><g transform="translate(0,-0.3) scale(1.03,1)" stroke="#0aa0e6" stroke-width="1.05" fill="none" stroke-linejoin="round"><path d="M0.3 1.6 L2.4 0.2 V7.4 M0.2 7.4 H4"/><path d="M5.3 1.6 Q6.6 0.1 8.2 0.35 Q9.9 0.8 9.6 2.6 Q9.3 3.6 5.4 7.4 H10.1"/><path d="M11.3 0.5 H16.1 L13 3.5 Q15.9 3.6 15.9 5.6 Q15.8 7.8 13.6 7.8 Q12 7.8 11.3 6.9"/></g></svg>id_repair</div><div class="r" style="top:127.90px;letter-spacing:0.086px;"><svg class="ic" style="top:5px;left:3px" width="18" height="10" viewBox="0 0 18 10"><g transform="translate(0,-0.3) scale(1.03,1)" stroke="#0aa0e6" stroke-width="1.05" fill="none" stroke-linejoin="round"><path d="M0.3 1.6 L2.4 0.2 V7.4 M0.2 7.4 H4"/><path d="M5.3 1.6 Q6.6 0.1 8.2 0.35 Q9.9 0.8 9.6 2.6 Q9.3 3.6 5.4 7.4 H10.1"/><path d="M11.3 0.5 H16.1 L13 3.5 Q15.9 3.6 15.9 5.6 Q15.8 7.8 13.6 7.8 Q12 7.8 11.3 6.9"/></g></svg>id_user</div></div>
<div class="t" style="left:309px;top:470px;width:174px;height:132.00px"><div class="h"><div class="hr"><svg class="ti" width="14" height="11" viewBox="0 0 14 11"><rect x="0" y="0" width="14" height="11" rx="1.5" fill="#0a9be3"/><rect x="1" y="2.5" width="5.5" height="3.5" fill="#6dcdf0"/><rect x="7.5" y="2.5" width="5.5" height="3.5" fill="#6dcdf0"/><rect x="1.5" y="7" width="5" height="3" fill="#1e1e1e"/><rect x="7.5" y="7" width="5" height="3" fill="#1e1e1e"/></svg><span style="letter-spacing:0.046px;">part</span></div></div><div class="dv" style="top:26px"></div><div class="dv" style="top:54px"></div><div class="r b" style="top:31.45px;letter-spacing:0.044px;"><svg class="ic" style="top:5px;left:2.7px" width="18" height="15" viewBox="0 0 18 15"><g transform="translate(0.1,0.4)" stroke="#0aa0e6" stroke-width="1.15" fill="none" stroke-linejoin="round"><path d="M0.3 1.6 L2.4 0.2 V7.4 M0.2 7.4 H4"/><path d="M5.3 1.6 Q6.6 0.1 8.2 0.35 Q9.9 0.8 9.6 2.6 Q9.3 3.6 5.4 7.4 H8"/><path d="M11.3 0.5 H16.1 L13 3.5"/></g><rect x="8.4" y="4.6" width="8" height="8.7" fill="#0a8ddb"/><circle cx="12.4" cy="7.6" r="1.6" stroke="#fff" stroke-width="1.15" fill="none"/><path d="M12.4 9.2 V11.9 H11.4" stroke="#fff" stroke-width="1.15" fill="none"/></svg>id_part</div><div class="r" style="top:58.90px;letter-spacing:0.048px;"><svg class="ic" style="top:6px;left:3px" width="18" height="9" viewBox="0 0 18 9"><g transform="translate(0,-0.4)" stroke="#0aa0e6" stroke-width="1.6" fill="none"><path d="M0.9 7.2 V2.1 L1.9 0.9 H3.3 L4.3 2.1 V7.2 M0.9 4.5 H4.3"/><path d="M6.9 7.1 V0.9 H8.8 L9.6 1.7 V2.8 L8.8 3.9 L9.7 4.9 V6.2 L8.9 7.1 Z M6.9 3.9 H8.8"/><path d="M16.2 1.7 L15.3 0.9 H12.8 L11.9 1.8 V6.2 L12.8 7.1 H15.3 L16.2 6.3"/></g></svg>part_name</div><div class="r" style="top:81.90px;letter-spacing:0.038px;"><svg class="ic" style="top:6px;left:3px" width="18" height="9" viewBox="0 0 18 9"><g transform="translate(0,-0.4)" stroke="#0aa0e6" stroke-width="1.6" fill="none"><path d="M0.9 7.2 V2.1 L1.9 0.9 H3.3 L4.3 2.1 V7.2 M0.9 4.5 H4.3"/><path d="M6.9 7.1 V0.9 H8.8 L9.6 1.7 V2.8 L8.8 3.9 L9.7 4.9 V6.2 L8.9 7.1 Z M6.9 3.9 H8.8"/><path d="M16.2 1.7 L15.3 0.9 H12.8 L11.9 1.8 V6.2 L12.8 7.1 H15.3 L16.2 6.3"/></g></svg>part_description</div><div class="r" style="top:104.90px;letter-spacing:0.040px;"><svg class="ic" style="top:5px;left:3px" width="18" height="10" viewBox="0 0 18 10"><g transform="translate(0,-0.3) scale(1.03,1)" stroke="#0aa0e6" stroke-width="1.05" fill="none" stroke-linejoin="round"><path d="M0.3 1.6 L2.4 0.2 V7.4 M0.2 7.4 H4"/><path d="M5.3 1.6 Q6.6 0.1 8.2 0.35 Q9.9 0.8 9.6 2.6 Q9.3 3.6 5.4 7.4 H10.1"/><path d="M11.3 0.5 H16.1 L13 3.5 Q15.9 3.6 15.9 5.6 Q15.8 7.8 13.6 7.8 Q12 7.8 11.3 6.9"/></g></svg>id_part_manufacturer</div></div>
<div class="t" style="left:1065px;top:516px;width:167px;height:155.00px"><div class="h"><div class="hr"><svg class="ti" width="14" height="11" viewBox="0 0 14 11"><rect x="0" y="0" width="14" height="11" rx="1.5" fill="#0a9be3"/><rect x="1" y="2.5" width="5.5" height="3.5" fill="#6dcdf0"/><rect x="7.5" y="2.5" width="5.5" height="3.5" fill="#6dcdf0"/><rect x="1.5" y="7" width="5" height="3" fill="#1e1e1e"/><rect x="7.5" y="7" width="5" height="3" fill="#1e1e1e"/></svg><span style="letter-spacing:-0.103px;">car</span></div></div><div class="dv" style="top:26px"></div><div class="dv" style="top:54px"></div><div class="r b" style="top:31.45px;letter-spacing:-0.085px;"><svg class="ic" style="top:5px;left:2.7px" width="18" height="15" viewBox="0 0 18 15"><g transform="translate(0.1,0.4)" stroke="#0aa0e6" stroke-width="1.15" fill="none" stroke-linejoin="round"><path d="M0.3 1.6 L2.4 0.2 V7.4 M0.2 7.4 H4"/><path d="M5.3 1.6 Q6.6 0.1 8.2 0.35 Q9.9 0.8 9.6 2.6 Q9.3 3.6 5.4 7.4 H8"/><path d="M11.3 0.5 H16.1 L13 3.5"/></g><rect x="8.4" y="4.6" width="8" height="8.7" fill="#0a8ddb"/><circle cx="12.4" cy="7.6" r="1.6" stroke="#fff" stroke-width="1.15" fill="none"/><path d="M12.4 9.2 V11.9 H11.4" stroke="#fff" stroke-width="1.15" fill="none"/></svg>id_car</div><div class="r" style="top:58.90px;letter-spacing:-0.073px;"><svg class="ic" style="top:5px;left:3px" width="18" height="10" viewBox="0 0 18 10"><g transform="translate(0,-0.3) scale(1.03,1)" stroke="#0aa0e6" stroke-width="1.05" fill="none" stroke-linejoin="round"><path d="M0.3 1.6 L2.4 0.2 V7.4 M0.2 7.4 H4"/><path d="M5.3 1.6 Q6.6 0.1 8.2 0.35 Q9.9 0.8 9.6 2.6 Q9.3 3.6 5.4 7.4 H10.1"/><path d="M11.3 0.5 H16.1 L13 3.5 Q15.9 3.6 15.9 5.6 Q15.8 7.8 13.6 7.8 Q12 7.8 11.3 6.9"/></g></svg>in_production_since</div><div class="r" style="top:81.90px;letter-spacing:-0.065px;"><svg class="ic" style="top:5px;left:3px" width="18" height="10" viewBox="0 0 18 10"><g transform="translate(0,-0.3) scale(1.03,1)" stroke="#0aa0e6" stroke-width="1.05" fill="none" stroke-linejoin="round"><path d="M0.3 1.6 L2.4 0.2 V7.4 M0.2 7.4 H4"/><path d="M5.3 1.6 Q6.6 0.1 8.2 0.35 Q9.9 0.8 9.6 2.6 Q9.3 3.6 5.4 7.4 H10.1"/><path d="M11.3 0.5 H16.1 L13 3.5 Q15.9 3.6 15.9 5.6 Q15.8 7.8 13.6 7.8 Q12 7.8 11.3 6.9"/></g></svg>in_production_till</div><div class="r" style="top:104.90px;letter-spacing:-0.081px;"><svg class="ic" style="top:6px;left:3px" width="18" height="9" viewBox="0 0 18 9"><g transform="translate(0,-0.4)" stroke="#0aa0e6" stroke-width="1.6" fill="none"><path d="M0.9 7.2 V2.1 L1.9 0.9 H3.3 L4.3 2.1 V7.2 M0.9 4.5 H4.3"/><path d="M6.9 7.1 V0.9 H8.8 L9.6 1.7 V2.8 L8.8 3.9 L9.7 4.9 V6.2 L8.9 7.1 Z M6.9 3.9 H8.8"/><path d="M16.2 1.7 L15.3 0.9 H12.8 L11.9 1.8 V6.2 L12.8 7.1 H15.3 L16.2 6.3"/></g></svg>car_type</div><div class="r" style="top:127.90px;letter-spacing:-0.076px;"><svg class="ic" style="top:5px;left:3px" width="18" height="10" viewBox="0 0 18 10"><g transform="translate(0,-0.3) scale(1.03,1)" stroke="#0aa0e6" stroke-width="1.05" fill="none" stroke-linejoin="round"><path d="M0.3 1.6 L2.4 0.2 V7.4 M0.2 7.4 H4"/><path d="M5.3 1.6 Q6.6 0.1 8.2 0.35 Q9.9 0.8 9.6 2.6 Q9.3 3.6 5.4 7.4 H10.1"/><path d="M11.3 0.5 H16.1 L13 3.5 Q15.9 3.6 15.9 5.6 Q15.8 7.8 13.6 7.8 Q12 7.8 11.3 6.9"/></g></svg>id_car_manufacturer</div></div>
<div class="t" style="left:1343px;top:496px;width:161px;height:224.00px"><div class="h"><div class="hr"><svg class="ti" width="14" height="11" viewBox="0 0 14 11"><rect x="0" y="0" width="14" height="11" rx="1.5" fill="#0a9be3"/><rect x="1" y="2.5" width="5.5" height="3.5" fill="#6dcdf0"/><rect x="7.5" y="2.5" width="5.5" height="3.5" fill="#6dcdf0"/><rect x="1.5" y="7" width="5" height="3" fill="#1e1e1e"/><rect x="7.5" y="7" width="5" height="3" fill="#1e1e1e"/></svg><span style="letter-spacing:0.104px;">car_sample</span></div></div><div class="dv" style="top:26px"></div><div class="dv" style="top:54px"></div><div class="r b" style="top:31.45px;letter-spacing:0.127px;"><svg class="ic" style="top:5px;left:2.7px" width="18" height="15" viewBox="0 0 18 15"><g transform="translate(0.1,0.4)" stroke="#0aa0e6" stroke-width="1.15" fill="none" stroke-linejoin="round"><path d="M0.3 1.6 L2.4 0.2 V7.4 M0.2 7.4 H4"/><path d="M5.3 1.6 Q6.6 0.1 8.2 0.35 Q9.9 0.8 9.6 2.6 Q9.3 3.6 5.4 7.4 H8"/><path d="M11.3 0.5 H16.1 L13 3.5"/></g><rect x="8.4" y="4.6" width="8" height="8.7" fill="#0a8ddb"/><circle cx="12.4" cy="7.6" r="1.6" stroke="#fff" stroke-width="1.15" fill="none"/><path d="M12.4 9.2 V11.9 H11.4" stroke="#fff" stroke-width="1.15" fill="none"/></svg>vin</div><div class="r" style="top:58.90px;letter-spacing:0.091px;"><svg class="ic" style="top:5px;left:3px" width="18" height="10" viewBox="0 0 18 10"><g transform="translate(0,-0.3) scale(1.03,1)" stroke="#0aa0e6" stroke-width="1.05" fill="none" stroke-linejoin="round"><path d="M0.3 1.6 L2.4 0.2 V7.4 M0.2 7.4 H4"/><path d="M5.3 1.6 Q6.6 0.1 8.2 0.35 Q9.9 0.8 9.6 2.6 Q9.3 3.6 5.4 7.4 H10.1"/><path d="M11.3 0.5 H16.1 L13 3.5 Q15.9 3.6 15.9 5.6 Q15.8 7.8 13.6 7.8 Q12 7.8 11.3 6.9"/></g></svg>year_of_production</div><div class="r" style="top:81.90px;letter-spacing:0.103px;"><svg class="ic" style="top:5px;left:3px" width="18" height="10" viewBox="0 0 18 10"><g transform="translate(0,-0.3) scale(1.03,1)" stroke="#0aa0e6" stroke-width="1.05" fill="none" stroke-linejoin="round"><path d="M0.3 1.6 L2.4 0.2 V7.4 M0.2 7.4 H4"/><path d="M5.3 1.6 Q6.6 0.1 8.2 0.35 Q9.9 0.8 9.6 2.6 Q9.3 3.6 5.4 7.4 H10.1"/><path d="M11.3 0.5 H16.1 L13 3.5 Q15.9 3.6 15.9 5.6 Q15.8 7.8 13.6 7.8 Q12 7.8 11.3 6.9"/></g></svg>engine_power</div><div class="r" style="top:104.90px;letter-spacing:0.097px;"><svg class="ic" style="top:5px;left:3px" width="18" height="10" viewBox="0 0 18 10"><g transform="translate(0,-0.3) scale(1.03,1)" stroke="#0aa0e6" stroke-width="1.05" fill="none" stroke-linejoin="round"><path d="M0.3 1.6 L2.4 0.2 V7.4 M0.2 7.4 H4"/><path d="M5.3 1.6 Q6.6 0.1 8.2 0.35 Q9.9 0.8 9.6 2.6 Q9.3 3.6 5.4 7.4 H10.1"/><path d="M11.3 0.5 H16.1 L13 3.5 Q15.9 3.6 15.9 5.6 Q15.8 7.8 13.6 7.8 Q12 7.8 11.3 6.9"/></g></svg>displacement</div><div class="r" style="top:127.90px;letter-spacing:0.092px;"><svg class="ic" style="top:6px;left:3px" width="18" height="9" viewBox="0 0 18 9"><g transform="translate(0,-0.4)" stroke="#0aa0e6" stroke-width="1.6" fill="none"><path d="M0.9 7.2 V2.1 L1.9 0.9 H3.3 L4.3 2.1 V7.2 M0.9 4.5 H4.3"/><path d="M6.9 7.1 V0.9 H8.8 L9.6 1.7 V2.8 L8.8 3.9 L9.7 4.9 V6.2 L8.9 7.1 Z M6.9 3.9 H8.8"/><path d="M16.2 1.7 L15.3 0.9 H12.8 L11.9 1.8 V6.2 L12.8 7.1 H15.3 L16.2 6.3"/></g></svg>fuel_type</div><div class="r" style="top:150.90px;letter-spacing:0.104px;"><svg class="ic" style="top:5px;left:3px" width="18" height="10" viewBox="0 0 18 10"><g transform="translate(0,-0.3) scale(1.03,1)" stroke="#0aa0e6" stroke-width="1.05" fill="none" stroke-linejoin="round"><path d="M0.3 1.6 L2.4 0.2 V7.4 M0.2 7.4 H4"/><path d="M5.3 1.6 Q6.6 0.1 8.2 0.35 Q9.9 0.8 9.6 2.6 Q9.3 3.6 5.4 7.4 H10.1"/><path d="M11.3 0.5 H16.1 L13 3.5 Q15.9 3.6 15.9 5.6 Q15.8 7.8 13.6 7.8 Q12 7.8 11.3 6.9"/></g></svg>km_driven</div><div class="r" style="top:173.90px;letter-spacing:0.099px;"><svg class="ic" style="top:5px;left:3px" width="18" height="10" viewBox="0 0 18 10"><g transform="translate(0,-0.3) scale(1.03,1)" stroke="#0aa0e6" stroke-width="1.05" fill="none" stroke-linejoin="round"><path d="M0.3 1.6 L2.4 0.2 V7.4 M0.2 7.4 H4"/><path d="M5.3 1.6 Q6.6 0.1 8.2 0.35 Q9.9 0.8 9.6 2.6 Q9.3 3.6 5.4 7.4 H10.1"/><path d="M11.3 0.5 H16.1 L13 3.5 Q15.9 3.6 15.9 5.6 Q15.8 7.8 13.6 7.8 Q12 7.8 11.3 6.9"/></g></svg>id_user</div><div class="r" style="top:196.90px;letter-spacing:0.098px;"><svg class="ic" style="top:5px;left:3px" width="18" height="10" viewBox="0 0 18 10"><g transform="translate(0,-0.3) scale(1.03,1)" stroke="#0aa0e6" stroke-width="1.05" fill="none" stroke-linejoin="round"><path d="M0.3 1.6 L2.4 0.2 V7.4 M0.2 7.4 H4"/><path d="M5.3 1.6 Q6.6 0.1 8.2 0.35 Q9.9 0.8 9.6 2.6 Q9.3 3.6 5.4 7.4 H10.1"/><path d="M11.3 0.5 H16.1 L13 3.5 Q15.9 3.6 15.9 5.6 Q15.8 7.8 13.6 7.8 Q12 7.8 11.3 6.9"/></g></svg>id_car</div></div>
<div class="t" style="left:639px;top:597px;width:208px;height:86.00px"><div class="h"><div class="hr"><svg class="ti" width="14" height="11" viewBox="0 0 14 11"><rect x="0" y="0" width="14" height="11" rx="1.5" fill="#0a9be3"/><rect x="1" y="2.5" width="5.5" height="3.5" fill="#6dcdf0"/><rect x="7.5" y="2.5" width="5.5" height="3.5" fill="#6dcdf0"/><rect x="1.5" y="7" width="5" height="3" fill="#1e1e1e"/><rect x="7.5" y="7" width="5" height="3" fill="#1e1e1e"/></svg><span style="letter-spacing:-0.050px;">part_is_appropriate_for_car</span></div></div><div class="dv" style="top:26px"></div><div class="dv" style="top:31px"></div><div class="r" style="top:35.90px;letter-spacing:-0.054px;"><svg class="ic" style="top:5px;left:3px" width="18" height="10" viewBox="0 0 18 10"><g transform="translate(0,-0.3) scale(1.03,1)" stroke="#0aa0e6" stroke-width="1.05" fill="none" stroke-linejoin="round"><path d="M0.3 1.6 L2.4 0.2 V7.4 M0.2 7.4 H4"/><path d="M5.3 1.6 Q6.6 0.1 8.2 0.35 Q9.9 0.8 9.6 2.6 Q9.3 3.6 5.4 7.4 H10.1"/><path d="M11.3 0.5 H16.1 L13 3.5 Q15.9 3.6 15.9 5.6 Q15.8 7.8 13.6 7.8 Q12 7.8 11.3 6.9"/></g></svg>id_part</div><div class="r" style="top:58.90px;letter-spacing:-0.058px;"><svg class="ic" style="top:5px;left:3px" width="18" height="10" viewBox="0 0 18 10"><g transform="translate(0,-0.3) scale(1.03,1)" stroke="#0aa0e6" stroke-width="1.05" fill="none" stroke-linejoin="round"><path d="M0.3 1.6 L2.4 0.2 V7.4 M0.2 7.4 H4"/><path d="M5.3 1.6 Q6.6 0.1 8.2 0.35 Q9.9 0.8 9.6 2.6 Q9.3 3.6 5.4 7.4 H10.1"/><path d="M11.3 0.5 H16.1 L13 3.5 Q15.9 3.6 15.9 5.6 Q15.8 7.8 13.6 7.8 Q12 7.8 11.3 6.9"/></g></svg>id_car</div></div>
<div class="t" style="left:1681px;top:621px;width:138px;height:132.00px"><div class="h"><div class="hr"><svg class="ti" width="14" height="11" viewBox="0 0 14 11"><rect x="0" y="0" width="14" height="11" rx="1.5" fill="#0a9be3"/><rect x="1" y="2.5" width="5.5" height="3.5" fill="#6dcdf0"/><rect x="7.5" y="2.5" width="5.5" height="3.5" fill="#6dcdf0"/><rect x="1.5" y="7" width="5" height="3" fill="#1e1e1e"/><rect x="7.5" y="7" width="5" height="3" fill="#1e1e1e"/></svg><span style="letter-spacing:-0.139px;">repair</span></div></div><div class="dv" style="top:26px"></div><div class="dv" style="top:54px"></div><div class="r b" style="top:31.45px;letter-spacing:-0.140px;"><svg class="ic" style="top:5px;left:2.7px" width="18" height="15" viewBox="0 0 18 15"><g transform="translate(0.1,0.4)" stroke="#0aa0e6" stroke-width="1.15" fill="none" stroke-linejoin="round"><path d="M0.3 1.6 L2.4 0.2 V7.4 M0.2 7.4 H4"/><path d="M5.3 1.6 Q6.6 0.1 8.2 0.35 Q9.9 0.8 9.6 2.6 Q9.3 3.6 5.4 7.4 H8"/><path d="M11.3 0.5 H16.1 L13 3.5"/></g><rect x="8.4" y="4.6" width="8" height="8.7" fill="#0a8ddb"/><circle cx="12.4" cy="7.6" r="1.6" stroke="#fff" stroke-width="1.15" fill="none"/><path d="M12.4 9.2 V11.9 H11.4" stroke="#fff" stroke-width="1.15" fill="none"/></svg>id_repair</div><div class="r" style="top:58.90px;letter-spacing:-0.174px;"><svg class="ic" style="top:5px;left:3px" width="18" height="10" viewBox="0 0 18 10"><g transform="translate(0,-0.3) scale(1.03,1)" stroke="#0aa0e6" stroke-width="1.05" fill="none" stroke-linejoin="round"><path d="M0.3 1.6 L2.4 0.2 V7.4 M0.2 7.4 H4"/><path d="M5.3 1.6 Q6.6 0.1 8.2 0.35 Q9.9 0.8 9.6 2.6 Q9.3 3.6 5.4 7.4 H10.1"/><path d="M11.3 0.5 H16.1 L13 3.5 Q15.9 3.6 15.9 5.6 Q15.8 7.8 13.6 7.8 Q12 7.8 11.3 6.9"/></g></svg>vin</div><div class="r" style="top:81.90px;letter-spacing:-0.139px;"><svg class="ic" style="top:5px;left:3px" width="18" height="10" viewBox="0 0 18 10"><g transform="translate(0,-0.3) scale(1.03,1)" stroke="#0aa0e6" stroke-width="1.05" fill="none" stroke-linejoin="round"><path d="M0.3 1.6 L2.4 0.2 V7.4 M0.2 7.4 H4"/><path d="M5.3 1.6 Q6.6 0.1 8.2 0.35 Q9.9 0.8 9.6 2.6 Q9.3 3.6 5.4 7.4 H10.1"/><path d="M11.3 0.5 H16.1 L13 3.5 Q15.9 3.6 15.9 5.6 Q15.8 7.8 13.6 7.8 Q12 7.8 11.3 6.9"/></g></svg>id_repair_shop</div><div class="r" style="top:104.90px;letter-spacing:-0.141px;"><svg class="ic" style="top:5px;left:3px" width="18" height="10" viewBox="0 0 18 10"><g transform="translate(0,-0.3) scale(1.03,1)" stroke="#0aa0e6" stroke-width="1.05" fill="none" stroke-linejoin="round"><path d="M0.3 1.6 L2.4 0.2 V7.4 M0.2 7.4 H4"/><path d="M5.3 1.6 Q6.6 0.1 8.2 0.35 Q9.9 0.8 9.6 2.6 Q9.3 3.6 5.4 7.4 H10.1"/><path d="M11.3 0.5 H16.1 L13 3.5 Q15.9 3.6 15.9 5.6 Q15.8 7.8 13.6 7.8 Q12 7.8 11.3 6.9"/></g></svg>id_service_book</div></div>
<div class="t" style="left:107px;top:693px;width:174px;height:86.00px"><div class="h"><div class="hr"><svg class="ti" width="14" height="11" viewBox="0 0 14 11"><rect x="0" y="0" width="14" height="11" rx="1.5" fill="#0a9be3"/><rect x="1" y="2.5" width="5.5" height="3.5" fill="#6dcdf0"/><rect x="7.5" y="2.5" width="5.5" height="3.5" fill="#6dcdf0"/><rect x="1.5" y="7" width="5" height="3" fill="#1e1e1e"/><rect x="7.5" y="7" width="5" height="3" fill="#1e1e1e"/></svg><span style="letter-spacing:-0.060px;">part_is_from_category</span></div></div><div class="dv" style="top:26px"></div><div class="dv" style="top:31px"></div><div class="r" style="top:35.90px;letter-spacing:-0.062px;"><svg class="ic" style="top:5px;left:3px" width="18" height="10" viewBox="0 0 18 10"><g transform="translate(0,-0.3) scale(1.03,1)" stroke="#0aa0e6" stroke-width="1.05" fill="none" stroke-linejoin="round"><path d="M0.3 1.6 L2.4 0.2 V7.4 M0.2 7.4 H4"/><path d="M5.3 1.6 Q6.6 0.1 8.2 0.35 Q9.9 0.8 9.6 2.6 Q9.3 3.6 5.4 7.4 H10.1"/><path d="M11.3 0.5 H16.1 L13 3.5 Q15.9 3.6 15.9 5.6 Q15.8 7.8 13.6 7.8 Q12 7.8 11.3 6.9"/></g></svg>id_part</div><div class="r" style="top:58.90px;letter-spacing:-0.063px;"><svg class="ic" style="top:5px;left:3px" width="18" height="10" viewBox="0 0 18 10"><g transform="translate(0,-0.3) scale(1.03,1)" stroke="#0aa0e6" stroke-width="1.05" fill="none" stroke-linejoin="round"><path d="M0.3 1.6 L2.4 0.2 V7.4 M0.2 7.4 H4"/><path d="M5.3 1.6 Q6.6 0.1 8.2 0.35 Q9.9 0.8 9.6 2.6 Q9.3 3.6 5.4 7.4 H10.1"/><path d="M11.3 0.5 H16.1 L13 3.5 Q15.9 3.6 15.9 5.6 Q15.8 7.8 13.6 7.8 Q12 7.8 11.3 6.9"/></g></svg>id_category</div></div>
<div class="t" style="left:370px;top:776px;width:184px;height:109.00px"><div class="h"><div class="hr"><svg class="ti" width="14" height="11" viewBox="0 0 14 11"><rect x="0" y="0" width="14" height="11" rx="1.5" fill="#0a9be3"/><rect x="1" y="2.5" width="5.5" height="3.5" fill="#6dcdf0"/><rect x="7.5" y="2.5" width="5.5" height="3.5" fill="#6dcdf0"/><rect x="1.5" y="7" width="5" height="3" fill="#1e1e1e"/><rect x="7.5" y="7" width="5" height="3" fill="#1e1e1e"/></svg><span style="letter-spacing:0.186px;">part_manufacturer</span></div></div><div class="dv" style="top:26px"></div><div class="dv" style="top:54px"></div><div class="r b" style="top:31.45px;letter-spacing:0.192px;"><svg class="ic" style="top:5px;left:2.7px" width="18" height="15" viewBox="0 0 18 15"><g transform="translate(0.1,0.4)" stroke="#0aa0e6" stroke-width="1.15" fill="none" stroke-linejoin="round"><path d="M0.3 1.6 L2.4 0.2 V7.4 M0.2 7.4 H4"/><path d="M5.3 1.6 Q6.6 0.1 8.2 0.35 Q9.9 0.8 9.6 2.6 Q9.3 3.6 5.4 7.4 H8"/><path d="M11.3 0.5 H16.1 L13 3.5"/></g><rect x="8.4" y="4.6" width="8" height="8.7" fill="#0a8ddb"/><circle cx="12.4" cy="7.6" r="1.6" stroke="#fff" stroke-width="1.15" fill="none"/><path d="M12.4 9.2 V11.9 H11.4" stroke="#fff" stroke-width="1.15" fill="none"/></svg>id_part_manufacturer</div><div class="r" style="top:58.90px;letter-spacing:0.270px;"><svg class="ic" style="top:6px;left:3px" width="18" height="9" viewBox="0 0 18 9"><g transform="translate(0,-0.4)" stroke="#0aa0e6" stroke-width="1.6" fill="none"><path d="M0.9 7.2 V2.1 L1.9 0.9 H3.3 L4.3 2.1 V7.2 M0.9 4.5 H4.3"/><path d="M6.9 7.1 V0.9 H8.8 L9.6 1.7 V2.8 L8.8 3.9 L9.7 4.9 V6.2 L8.9 7.1 Z M6.9 3.9 H8.8"/><path d="M16.2 1.7 L15.3 0.9 H12.8 L11.9 1.8 V6.2 L12.8 7.1 H15.3 L16.2 6.3"/></g></svg>pm_name</div><div class="r" style="top:81.90px;letter-spacing:0.196px;"><svg class="ic" style="top:6px;left:3px" width="18" height="9" viewBox="0 0 18 9"><g transform="translate(0,-0.4)" stroke="#0aa0e6" stroke-width="1.6" fill="none"><path d="M0.9 7.2 V2.1 L1.9 0.9 H3.3 L4.3 2.1 V7.2 M0.9 4.5 H4.3"/><path d="M6.9 7.1 V0.9 H8.8 L9.6 1.7 V2.8 L8.8 3.9 L9.7 4.9 V6.2 L8.9 7.1 Z M6.9 3.9 H8.8"/><path d="M16.2 1.7 L15.3 0.9 H12.8 L11.9 1.8 V6.2 L12.8 7.1 H15.3 L16.2 6.3"/></g></svg>pm_location</div></div>
<div class="t" style="left:1106px;top:778px;width:292px;height:86.00px"><div class="h"><div class="hr"><svg class="ti" width="14" height="11" viewBox="0 0 14 11"><rect x="0" y="0" width="14" height="11" rx="1.5" fill="#0a9be3"/><rect x="1" y="2.5" width="5.5" height="3.5" fill="#6dcdf0"/><rect x="7.5" y="2.5" width="5.5" height="3.5" fill="#6dcdf0"/><rect x="1.5" y="7" width="5" height="3" fill="#1e1e1e"/><rect x="7.5" y="7" width="5" height="3" fill="#1e1e1e"/></svg><span style="letter-spacing:-0.198px;">repair_shop_is_authorized_for_car_make</span></div></div><div class="dv" style="top:26px"></div><div class="dv" style="top:31px"></div><div class="r" style="top:35.90px;letter-spacing:-0.203px;"><svg class="ic" style="top:5px;left:3px" width="18" height="10" viewBox="0 0 18 10"><g transform="translate(0,-0.3) scale(1.03,1)" stroke="#0aa0e6" stroke-width="1.05" fill="none" stroke-linejoin="round"><path d="M0.3 1.6 L2.4 0.2 V7.4 M0.2 7.4 H4"/><path d="M5.3 1.6 Q6.6 0.1 8.2 0.35 Q9.9 0.8 9.6 2.6 Q9.3 3.6 5.4 7.4 H10.1"/><path d="M11.3 0.5 H16.1 L13 3.5 Q15.9 3.6 15.9 5.6 Q15.8 7.8 13.6 7.8 Q12 7.8 11.3 6.9"/></g></svg>id_repair_shop</div><div class="r" style="top:58.90px;letter-spacing:-0.203px;"><svg class="ic" style="top:5px;left:3px" width="18" height="10" viewBox="0 0 18 10"><g transform="translate(0,-0.3) scale(1.03,1)" stroke="#0aa0e6" stroke-width="1.05" fill="none" stroke-linejoin="round"><path d="M0.3 1.6 L2.4 0.2 V7.4 M0.2 7.4 H4"/><path d="M5.3 1.6 Q6.6 0.1 8.2 0.35 Q9.9 0.8 9.6 2.6 Q9.3 3.6 5.4 7.4 H10.1"/><path d="M11.3 0.5 H16.1 L13 3.5 Q15.9 3.6 15.9 5.6 Q15.8 7.8 13.6 7.8 Q12 7.8 11.3 6.9"/></g></svg>id_car_manufacturer</div></div>
<div class="t" style="left:10px;top:830px;width:160px;height:109.00px"><div class="h"><div class="hr"><svg class="ti" width="14" height="11" viewBox="0 0 14 11"><rect x="0" y="0" width="14" height="11" rx="1.5" fill="#0a9be3"/><rect x="1" y="2.5" width="5.5" height="3.5" fill="#6dcdf0"/><rect x="7.5" y="2.5" width="5.5" height="3.5" fill="#6dcdf0"/><rect x="1.5" y="7" width="5" height="3" fill="#1e1e1e"/><rect x="7.5" y="7" width="5" height="3" fill="#1e1e1e"/></svg><span style="letter-spacing:0.035px;">category</span></div></div><div class="dv" style="top:26px"></div><div class="dv" style="top:54px"></div><div class="r b" style="top:31.45px;letter-spacing:0.035px;"><svg class="ic" style="top:5px;left:2.7px" width="18" height="15" viewBox="0 0 18 15"><g transform="translate(0.1,0.4)" stroke="#0aa0e6" stroke-width="1.15" fill="none" stroke-linejoin="round"><path d="M0.3 1.6 L2.4 0.2 V7.4 M0.2 7.4 H4"/><path d="M5.3 1.6 Q6.6 0.1 8.2 0.35 Q9.9 0.8 9.6 2.6 Q9.3 3.6 5.4 7.4 H8"/><path d="M11.3 0.5 H16.1 L13 3.5"/></g><rect x="8.4" y="4.6" width="8" height="8.7" fill="#0a8ddb"/><circle cx="12.4" cy="7.6" r="1.6" stroke="#fff" stroke-width="1.15" fill="none"/><path d="M12.4 9.2 V11.9 H11.4" stroke="#fff" stroke-width="1.15" fill="none"/></svg>id_category</div><div class="r" style="top:58.90px;letter-spacing:0.037px;"><svg class="ic" style="top:6px;left:3px" width="18" height="9" viewBox="0 0 18 9"><g transform="translate(0,-0.4)" stroke="#0aa0e6" stroke-width="1.6" fill="none"><path d="M0.9 7.2 V2.1 L1.9 0.9 H3.3 L4.3 2.1 V7.2 M0.9 4.5 H4.3"/><path d="M6.9 7.1 V0.9 H8.8 L9.6 1.7 V2.8 L8.8 3.9 L9.7 4.9 V6.2 L8.9 7.1 Z M6.9 3.9 H8.8"/><path d="M16.2 1.7 L15.3 0.9 H12.8 L11.9 1.8 V6.2 L12.8 7.1 H15.3 L16.2 6.3"/></g></svg>category_name</div><div class="r" style="top:81.90px;letter-spacing:0.032px;"><svg class="ic" style="top:5px;left:3px" width="18" height="10" viewBox="0 0 18 10"><g transform="translate(0,-0.3) scale(1.03,1)" stroke="#0aa0e6" stroke-width="1.05" fill="none" stroke-linejoin="round"><path d="M0.3 1.6 L2.4 0.2 V7.4 M0.2 7.4 H4"/><path d="M5.3 1.6 Q6.6 0.1 8.2 0.35 Q9.9 0.8 9.6 2.6 Q9.3 3.6 5.4 7.4 H10.1"/><path d="M11.3 0.5 H16.1 L13 3.5 Q15.9 3.6 15.9 5.6 Q15.8 7.8 13.6 7.8 Q12 7.8 11.3 6.9"/></g></svg>id_parent_category</div></div>
<div class="t" style="left:759px;top:851px;width:176px;height:109.00px"><div class="h"><div class="hr"><svg class="ti" width="14" height="11" viewBox="0 0 14 11"><rect x="0" y="0" width="14" height="11" rx="1.5" fill="#0a9be3"/><rect x="1" y="2.5" width="5.5" height="3.5" fill="#6dcdf0"/><rect x="7.5" y="2.5" width="5.5" height="3.5" fill="#6dcdf0"/><rect x="1.5" y="7" width="5" height="3" fill="#1e1e1e"/><rect x="7.5" y="7" width="5" height="3" fill="#1e1e1e"/></svg><span style="letter-spacing:0.062px;">car_manufacturer</span></div></div><div class="dv" style="top:26px"></div><div class="dv" style="top:54px"></div><div class="r b" style="top:31.45px;letter-spacing:0.063px;"><svg class="ic" style="top:5px;left:2.7px" width="18" height="15" viewBox="0 0 18 15"><g transform="translate(0.1,0.4)" stroke="#0aa0e6" stroke-width="1.15" fill="none" stroke-linejoin="round"><path d="M0.3 1.6 L2.4 0.2 V7.4 M0.2 7.4 H4"/><path d="M5.3 1.6 Q6.6 0.1 8.2 0.35 Q9.9 0.8 9.6 2.6 Q9.3 3.6 5.4 7.4 H8"/><path d="M11.3 0.5 H16.1 L13 3.5"/></g><rect x="8.4" y="4.6" width="8" height="8.7" fill="#0a8ddb"/><circle cx="12.4" cy="7.6" r="1.6" stroke="#fff" stroke-width="1.15" fill="none"/><path d="M12.4 9.2 V11.9 H11.4" stroke="#fff" stroke-width="1.15" fill="none"/></svg>id_car_manufacturer</div><div class="r" style="top:58.90px;letter-spacing:0.087px;"><svg class="ic" style="top:6px;left:3px" width="18" height="9" viewBox="0 0 18 9"><g transform="translate(0,-0.4)" stroke="#0aa0e6" stroke-width="1.6" fill="none"><path d="M0.9 7.2 V2.1 L1.9 0.9 H3.3 L4.3 2.1 V7.2 M0.9 4.5 H4.3"/><path d="M6.9 7.1 V0.9 H8.8 L9.6 1.7 V2.8 L8.8 3.9 L9.7 4.9 V6.2 L8.9 7.1 Z M6.9 3.9 H8.8"/><path d="M16.2 1.7 L15.3 0.9 H12.8 L11.9 1.8 V6.2 L12.8 7.1 H15.3 L16.2 6.3"/></g></svg>cm_name</div><div class="r" style="top:81.90px;letter-spacing:0.068px;"><svg class="ic" style="top:6px;left:3px" width="18" height="9" viewBox="0 0 18 9"><g transform="translate(0,-0.4)" stroke="#0aa0e6" stroke-width="1.6" fill="none"><path d="M0.9 7.2 V2.1 L1.9 0.9 H3.3 L4.3 2.1 V7.2 M0.9 4.5 H4.3"/><path d="M6.9 7.1 V0.9 H8.8 L9.6 1.7 V2.8 L8.8 3.9 L9.7 4.9 V6.2 L8.9 7.1 Z M6.9 3.9 H8.8"/><path d="M16.2 1.7 L15.3 0.9 H12.8 L11.9 1.8 V6.2 L12.8 7.1 H15.3 L16.2 6.3"/></g></svg>cm_country</div></div>
<div class="t" style="left:1444px;top:828px;width:150px;height:132.00px"><div class="h"><div class="hr"><svg class="ti" width="14" height="11" viewBox="0 0 14 11"><rect x="0" y="0" width="14" height="11" rx="1.5" fill="#0a9be3"/><rect x="1" y="2.5" width="5.5" height="3.5" fill="#6dcdf0"/><rect x="7.5" y="2.5" width="5.5" height="3.5" fill="#6dcdf0"/><rect x="1.5" y="7" width="5" height="3" fill="#1e1e1e"/><rect x="7.5" y="7" width="5" height="3" fill="#1e1e1e"/></svg><span style="letter-spacing:-0.192px;">repair_shop</span></div></div><div class="dv" style="top:26px"></div><div class="dv" style="top:54px"></div><div class="r b" style="top:31.45px;letter-spacing:-0.195px;"><svg class="ic" style="top:5px;left:2.7px" width="18" height="15" viewBox="0 0 18 15"><g transform="translate(0.1,0.4)" stroke="#0aa0e6" stroke-width="1.15" fill="none" stroke-linejoin="round"><path d="M0.3 1.6 L2.4 0.2 V7.4 M0.2 7.4 H4"/><path d="M5.3 1.6 Q6.6 0.1 8.2 0.35 Q9.9 0.8 9.6 2.6 Q9.3 3.6 5.4 7.4 H8"/><path d="M11.3 0.5 H16.1 L13 3.5"/></g><rect x="8.4" y="4.6" width="8" height="8.7" fill="#0a8ddb"/><circle cx="12.4" cy="7.6" r="1.6" stroke="#fff" stroke-width="1.15" fill="none"/><path d="M12.4 9.2 V11.9 H11.4" stroke="#fff" stroke-width="1.15" fill="none"/></svg>id_repair_shop</div><div class="r" style="top:58.90px;letter-spacing:-0.236px;"><svg class="ic" style="top:6px;left:3px" width="18" height="9" viewBox="0 0 18 9"><g transform="translate(0,-0.4)" stroke="#0aa0e6" stroke-width="1.6" fill="none"><path d="M0.9 7.2 V2.1 L1.9 0.9 H3.3 L4.3 2.1 V7.2 M0.9 4.5 H4.3"/><path d="M6.9 7.1 V0.9 H8.8 L9.6 1.7 V2.8 L8.8 3.9 L9.7 4.9 V6.2 L8.9 7.1 Z M6.9 3.9 H8.8"/><path d="M16.2 1.7 L15.3 0.9 H12.8 L11.9 1.8 V6.2 L12.8 7.1 H15.3 L16.2 6.3"/></g></svg>rs_name</div><div class="r" style="top:81.90px;letter-spacing:-0.176px;"><svg class="ic" style="top:6px;left:3px" width="18" height="9" viewBox="0 0 18 9"><g transform="translate(0,-0.4)" stroke="#0aa0e6" stroke-width="1.6" fill="none"><path d="M0.9 7.2 V2.1 L1.9 0.9 H3.3 L4.3 2.1 V7.2 M0.9 4.5 H4.3"/><path d="M6.9 7.1 V0.9 H8.8 L9.6 1.7 V2.8 L8.8 3.9 L9.7 4.9 V6.2 L8.9 7.1 Z M6.9 3.9 H8.8"/><path d="M16.2 1.7 L15.3 0.9 H12.8 L11.9 1.8 V6.2 L12.8 7.1 H15.3 L16.2 6.3"/></g></svg>rs_location</div><div class="r" style="top:104.90px;letter-spacing:-0.211px;"><svg class="ic" style="top:6px;left:3px" width="18" height="9" viewBox="0 0 18 9"><g transform="translate(0,-0.4)" stroke="#0aa0e6" stroke-width="1.6" fill="none"><path d="M0.9 7.2 V2.1 L1.9 0.9 H3.3 L4.3 2.1 V7.2 M0.9 4.5 H4.3"/><path d="M6.9 7.1 V0.9 H8.8 L9.6 1.7 V2.8 L8.8 3.9 L9.7 4.9 V6.2 L8.9 7.1 Z M6.9 3.9 H8.8"/><path d="M16.2 1.7 L15.3 0.9 H12.8 L11.9 1.8 V6.2 L12.8 7.1 H15.3 L16.2 6.3"/></g></svg>rs_phone_number</div></div>
<div class="t" style="left:1785px;top:943px;width:143px;height:109.00px"><div class="h"><div class="hr"><svg class="ti" width="14" height="11" viewBox="0 0 14 11"><rect x="0" y="0" width="14" height="11" rx="1.5" fill="#0a9be3"/><rect x="1" y="2.5" width="5.5" height="3.5" fill="#6dcdf0"/><rect x="7.5" y="2.5" width="5.5" height="3.5" fill="#6dcdf0"/><rect x="1.5" y="7" width="5" height="3" fill="#1e1e1e"/><rect x="7.5" y="7" width="5" height="3" fill="#1e1e1e"/></svg><span style="letter-spacing:-0.190px;">service_book</span></div></div><div class="dv" style="top:26px"></div><div class="dv" style="top:54px"></div><div class="r b" style="top:31.45px;letter-spacing:-0.193px;"><svg class="ic" style="top:5px;left:2.7px" width="18" height="15" viewBox="0 0 18 15"><g transform="translate(0.1,0.4)" stroke="#0aa0e6" stroke-width="1.15" fill="none" stroke-linejoin="round"><path d="M0.3 1.6 L2.4 0.2 V7.4 M0.2 7.4 H4"/><path d="M5.3 1.6 Q6.6 0.1 8.2 0.35 Q9.9 0.8 9.6 2.6 Q9.3 3.6 5.4 7.4 H8"/><path d="M11.3 0.5 H16.1 L13 3.5"/></g><rect x="8.4" y="4.6" width="8" height="8.7" fill="#0a8ddb"/><circle cx="12.4" cy="7.6" r="1.6" stroke="#fff" stroke-width="1.15" fill="none"/><path d="M12.4 9.2 V11.9 H11.4" stroke="#fff" stroke-width="1.15" fill="none"/></svg>id_service_book</div><div class="r" style="top:58.90px;letter-spacing:-0.196px;"><svg class="ic" style="top:2.5px;left:3.5px" width="15" height="15" viewBox="0 0 15 15"><circle cx="7.4" cy="7.4" r="7" fill="#3b8ed4"/><path d="M7.9 3.3 V7.7 L2.6 10" stroke="#fff" stroke-width="1.1" fill="none"/></svg>sb_created_on</div><div class="r" style="top:81.90px;letter-spacing:-0.227px;"><svg class="ic" style="top:5px;left:3px" width="18" height="10" viewBox="0 0 18 10"><g transform="translate(0,-0.3) scale(1.03,1)" stroke="#0aa0e6" stroke-width="1.05" fill="none" stroke-linejoin="round"><path d="M0.3 1.6 L2.4 0.2 V7.4 M0.2 7.4 H4"/><path d="M5.3 1.6 Q6.6 0.1 8.2 0.35 Q9.9 0.8 9.6 2.6 Q9.3 3.6 5.4 7.4 H10.1"/><path d="M11.3 0.5 H16.1 L13 3.5 Q15.9 3.6 15.9 5.6 Q15.8 7.8 13.6 7.8 Q12 7.8 11.3 6.9"/></g></svg>vin</div></div>
</body></html>
